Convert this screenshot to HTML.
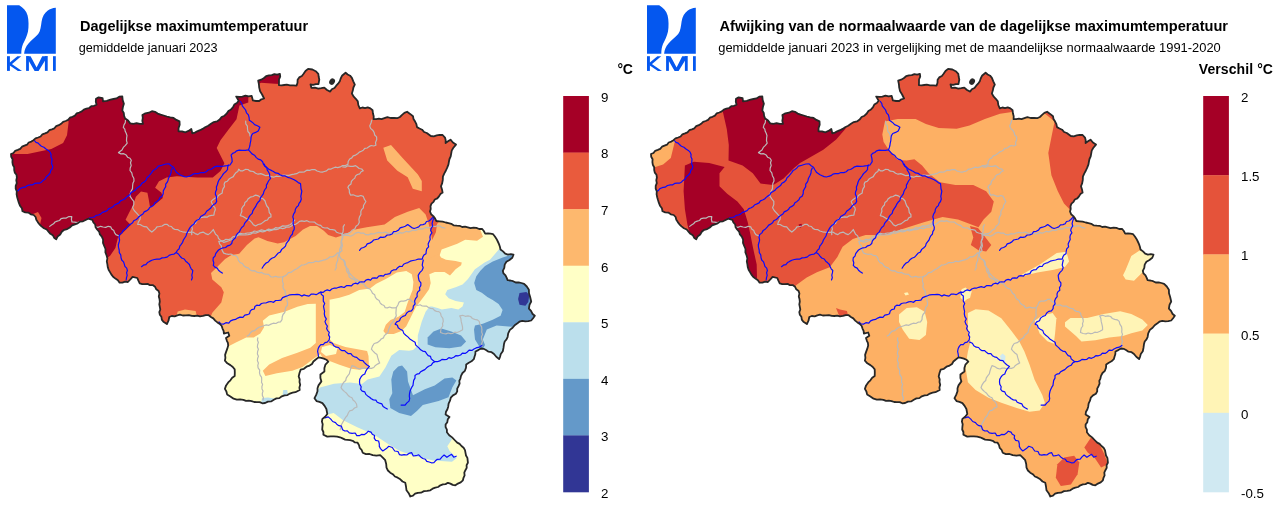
<!DOCTYPE html>
<html><head><meta charset="utf-8"><style>
html,body{margin:0;padding:0;background:#fff;width:1280px;height:507px;overflow:hidden}
svg{display:block;will-change:transform}
text{font-family:"Liberation Sans",sans-serif;fill:#000}
</style></head><body>
<svg width="1280" height="507" viewBox="0 0 1280 507">
<defs><clipPath id="clipBE"><path d="M11,154 L13.5,153 L15.2,150.8 L17.8,149.9 L20.2,148.9 L22,146.7 L24.5,145.7 L27,144.7 L28.7,142.5 L31.3,141.6 L33.5,140.2 L35.5,138.4 L38.1,137.5 L40.6,136.5 L42.4,134.3 L45,133.4 L47.5,132.4 L49.3,130.2 L51.9,129.3 L54.4,128.3 L56.2,126.1 L58.8,125.2 L61.1,123.8 L63.1,121.9 L65.7,121 L68.1,119.9 L69.9,117.7 L72.5,116.8 L74.9,115.6 L76.7,113.4 L79.3,112.5 L81.8,111.4 L83.8,109.6 L86.4,108.7 L89.1,108 L91.3,106.2 L94.1,105.8 L96.6,104.7 L95.8,101.8 L96,98.7 L98.6,97.4 L102.6,98.1 L103,101.3 L106.8,100.9 L110.5,99.7 L113.5,99 L116.5,98.4 L119.2,96.7 L122.3,96.4 L122.7,100.1 L123.9,103.7 L122.9,107.1 L122.3,110.6 L123.8,113 L124.1,115.9 L125.2,118.5 L128.1,120.6 L130.2,123.4 L133.4,123.9 L136.6,123.1 L139.8,123.9 L143,123.8 L142.3,120.9 L142.8,118 L142.4,115.1 L145.4,113.3 L148.8,112.7 L151.9,111.2 L155,111.8 L157.7,113.6 L160.6,114.7 L163.7,115.5 L166.9,116.5 L170.2,117.4 L173.6,117.9 L176.4,119.9 L179.5,121.4 L179.7,124.8 L178.6,128 L178.5,131.3 L182,131.3 L185.4,132.3 L188.5,130.9 L191.3,128.9 L192.3,133.3 L194.9,132.6 L197.2,131.3 L200,130.2 L202.6,128.9 L205.1,127.3 L208.2,125.8 L211,123.8 L213.8,122.1 L217,121.4 L219.6,119.6 L221.6,117 L224.5,115.7 L226.8,113.5 L228.4,111 L231,109.4 L232.9,107.3 L234.3,104.6 L236.9,103 L238.7,100.7 L236.2,96.6 L239.3,96.8 L242.4,96.6 L245.5,95.6 L248.6,96.4 L251.7,95.9 L252.9,100.4 L256,101 L259.2,101 L261.4,99.3 L264.1,98.5 L262.1,94.5 L260.1,91.3 L259.2,87.6 L258.9,84.1 L258.2,80.7 L261.1,79.7 L263.7,78.2 L266.1,76.2 L269,75.4 L271.8,75.2 L274.4,74.1 L277.2,74.6 L279.9,73.8 L280.2,76.7 L279,79.5 L279,82.3 L278.9,85.2 L281.6,85.4 L284.2,85 L286.8,84.7 L290,85.4 L293.3,85.4 L296.6,85.6 L297.5,82.7 L297.6,79.7 L299.2,77.4 L301.9,76 L303.6,73.8 L305.5,71 L308.1,68.9 L312.4,69.5 L315.7,71.2 L318.3,73.8 L318.7,76.8 L319.3,79.7 L318.5,84 L315.8,84.1 L313.2,84.8 L310.5,84.5 L311.4,87.8 L314.9,87.7 L318.3,88.6 L321.3,88.2 L324.3,87.6 L327,90 L330.2,91.6 L331.8,89.3 L334.5,88 L336.2,85.7 L338.1,83.7 L339.8,81.3 L340.7,78.5 L342,75.8 L345.6,72.8 L347.7,74.5 L350.1,75.7 L351.9,77.8 L353.3,81.3 L354.8,84.7 L353.4,87.5 L352.8,90.6 L351.9,93.5 L353.5,96.4 L355.8,98.8 L357.8,101.4 L358.3,105 L359.8,108.3 L362.4,107.5 L365.1,108.1 L367.7,107.3 L370.4,108.4 L372.6,110.3 L372.9,113.3 L373.7,116.2 L373.6,119.2 L376.2,119.2 L378.9,118.7 L381.5,119.2 L384.4,118.2 L387.4,117.2 L390.6,118 L393.9,117.8 L397.2,118.2 L399.9,117 L402.1,114.9 L404.4,112.9 L407.1,111.7 L410.1,113.9 L413,116.2 L413.5,119.1 L415.1,121.6 L416.4,124.2 L417,127.1 L419.5,128.5 L422.1,129.7 L424.1,132 L426.8,133 L430.8,136 L433.8,136.3 L436.7,135.4 L439.6,134.8 L442.6,135 L445,137.6 L445.7,140.3 L445.6,143 L448,141.3 L450.5,139.7 L452.9,142.5 L456,144.6 L453.2,148 L451.7,150.6 L451.2,153.5 L450.7,156.4 L449.5,159 L448.9,161.8 L448.4,164.6 L447.3,167.3 L445.9,170.5 L444.2,173.6 L442.9,176.6 L442.8,179.9 L442.2,183.1 L441,186.2 L442,189.4 L442.6,192.6 L440.4,194.1 L439,196.4 L437.3,198.4 L434.8,199.5 L433.5,201.9 L431.5,203.6 L430.5,206.1 L430.7,208.9 L430,211.5 L431.1,214.2 L433.3,216.1 L435,218.4 L436.3,221 L439.5,221.3 L442.6,221.7 L445.7,222.5 L448.5,223.1 L451.3,223.8 L453.9,225.4 L456.8,225.7 L459.6,225.8 L462.2,227 L465.1,226.7 L467.8,227.3 L470.6,228.1 L473.5,227.7 L476.4,227.9 L479.1,229 L482,228.8 L483.8,231 L485.2,233.6 L487.9,233.5 L490.5,233.7 L493.1,234.2 L494.9,236.5 L496.5,238.9 L497.8,241.5 L499,244.1 L499.9,246.7 L500.5,249.5 L503,251.4 L505.2,253.7 L507.9,254.6 L510.8,254.1 L513.5,254.7 L512.3,257.8 L509.5,260 L506.4,261.8 L504.7,264.6 L504.3,267.9 L502.8,270.8 L503.5,273.4 L505.5,275.4 L506.6,277.7 L507.6,280.2 L510.4,280.5 L513.1,281.2 L515.7,282.5 L518.7,282.3 L521.4,283 L524.1,283.8 L526.8,286.5 L528.9,289.7 L529,293.3 L530.1,296.8 L531.2,301.5 L529.5,304.9 L528.9,308.6 L531,310.8 L532.4,313.7 L534.8,315.7 L533.1,318.2 L531.2,320.5 L528.3,321.2 L525.3,321.3 L522.3,320.9 L519.4,321.7 L517.1,323.6 L514.7,325.2 L512.6,327.8 L509.9,329.9 L508.2,333.3 L507.6,337 L506.5,339.4 L504.7,341.5 L504,344.1 L503.5,347.7 L502.8,351.2 L500.8,354 L500.1,356.6 L499.1,359.1 L496.3,356.8 L494,354 L491.6,352.2 L488.5,351.7 L486,350 L483.6,348.8 L481,348.5 L478.3,350.1 L475.5,351.5 L475.3,354.2 L474.5,356.7 L473.8,359.2 L471.5,361.3 L468.8,362.7 L466.2,364.4 L466,367.7 L464.9,370.8 L462.5,373 L461,375.9 L460.4,378.5 L459.3,380.9 L459.6,383.7 L458.5,386.2 L457.2,388.6 L457.2,391.4 L455.9,393.8 L453,395.4 L450.8,397.7 L450,400.7 L448.6,403.6 L448.2,406.7 L447.4,409.3 L446,411.7 L445.6,414.4 L449.5,416.9 L447.8,419.2 L447.3,422.2 L445.6,424.6 L445.6,427.2 L446.9,429.7 L446.9,432.3 L449.2,435.2 L452.1,437.4 L454.6,440 L457.2,442.6 L459.6,443.9 L461.5,446 L463.6,447.7 L465,450.1 L465.5,452.8 L466,455.5 L467.4,457.9 L467.9,462.7 L466.6,465.1 L466.7,467.9 L465.4,470.2 L464.3,472.6 L464.6,475.4 L463.5,477.8 L462.9,480.3 L460.7,482.4 L457.9,483.6 L455.4,485.3 L452.7,484.9 L450.4,483.6 L447.9,482.8 L445.6,484.1 L442.9,484.4 L440.4,485.3 L438.1,487 L435.3,487.7 L432.6,488.7 L430.3,490.3 L427.2,490.8 L424,491.1 L421,492.7 L417.8,492.8 L415.1,493.7 L413,495.7 L410.3,496.5 L408.7,493.2 L406.5,490.3 L406,486.5 L405.3,482.8 L402.5,481.5 L400.3,479.3 L397.7,477.7 L394.9,476.5 L392.8,474.2 L390.2,472.7 L387.9,470.5 L386.5,467.7 L386.2,463.9 L385.2,460.2 L382.8,457.6 L380.2,455.2 L376.4,455.7 L372.7,455.2 L369.5,454 L365.9,454.1 L362.7,452.7 L361.7,450 L359.7,447.9 L359,445.1 L357.6,442.7 L354.9,442.4 L352.7,440.8 L350.1,440.2 L345.1,439.6 L342.5,438.4 L340,437.3 L337.2,436.6 L333.9,436.4 L330.6,436.3 L327.3,436.6 L323.4,434.7 L323.4,432 L322.2,429.5 L322.4,426.8 L322.7,424.2 L321.9,421.5 L322.4,418.9 L325.1,416.7 L327.3,414 L326.4,409 L324.6,405.9 L322.4,403.1 L319.5,401.9 L316.5,401.1 L314.5,398.2 L316.2,394.9 L317.5,391.3 L317.5,388.3 L318.5,385.4 L321.4,381.4 L320.4,378 L320.4,374.5 L324.4,371.6 L324.4,368.1 L325.4,364.7 L328.3,361.7 L326.4,359.7 L323.9,358.6 L321.2,357.9 L318.5,357.4 L315.5,359.7 L313.4,361.5 L312,364 L309.6,365.6 L306.5,366.7 L303.9,368.8 L300.7,369.6 L299.5,373 L298.7,376.5 L299.7,379.4 L299.5,382 L300.2,384.7 L299.4,387.4 L299.7,390 L295.4,392.2 L292.6,392.7 L289.9,393.6 L287.5,395.1 L284.6,395.4 L281.8,396.3 L279.4,398.1 L276.4,398.4 L273.8,399.8 L271.1,401.4 L267.9,401.6 L265.1,403 L262.3,403.3 L259.7,402.1 L256.9,402.1 L254.2,402 L251.6,401.1 L248.8,400.7 L246,400.9 L243.4,399.8 L240.1,399.3 L236.8,399.6 L233.6,398.7 L230.4,396.4 L227.1,394.4 L226.4,391.5 L224.9,388.9 L226.1,385.4 L228.2,382.4 L230.4,380.3 L232.2,377.7 L234.7,375.9 L234.8,372.6 L234.7,369.4 L232.8,367 L230.4,365.1 L227.3,363.3 L224.9,360.7 L225.4,357.8 L225.1,354.9 L226,352.1 L227.2,348.9 L228.2,345.6 L227.9,342.9 L226.8,340.5 L226,338 L229.3,335.8 L228.2,332.5 L223.9,333.6 L223.6,330.9 L222.5,328.5 L221.7,326 L219.8,323.9 L217.4,322.4 L215.2,320.6 L213.3,318.4 L210.9,317 L208.7,315.2 L205.7,315.1 L202.9,315.9 L200,316.3 L197.3,315.7 L194.5,316 L191.8,315.9 L188.9,315.1 L185.9,315.3 L182.8,315.5 L179.9,314.7 L177.3,315.3 L174.7,316.3 L171.8,316 L169.3,317 L168.5,320.7 L166.9,324.1 L163.4,321.8 L161.8,319.6 L161.4,316.8 L159.8,314.7 L159.3,312.1 L160.3,309.5 L159.8,306.9 L159.3,304.3 L159.8,301.7 L159.5,299 L158.8,296.4 L159.4,293.6 L158.6,291 L156.3,289.3 L155,286.7 L152.7,285.1 L150,285.2 L147.6,283.9 L144.9,284.2 L142.2,284.2 L139.7,283.4 L138.4,280.7 L137.3,278 L132.6,276.8 L130.3,279.5 L127.9,282 L125.1,281.7 L122.4,282.6 L119.6,282.7 L117.9,280.3 L115.4,278.6 L113.1,276.8 L111.3,274.4 L110,272.1 L108.6,269.8 L107.8,267.3 L107.4,264.4 L106.8,261.4 L107.4,258.4 L106.6,255.5 L105.4,252.4 L105.5,249 L104.2,246 L103,243 L103.1,239.6 L101.8,236.6 L99.9,234.4 L99.1,231.6 L97.1,229.5 L95.6,227.3 L95.2,224.5 L93.4,222.5 L92.4,220 L88.1,218.7 L85.6,220 L83,221.3 L80,221.6 L77.7,223.4 L75,224.3 L72.1,225.3 L69.8,227.5 L67.2,229.1 L64.2,229.8 L61.8,231.8 L60.2,234.5 L57.6,236.5 L56.2,239.3 L54.1,237.7 L52.8,235.2 L50.4,233.8 L48.7,231.8 L46.7,229.5 L43.9,228.2 L41.5,226.4 L39.4,224.3 L37.8,222.1 L36.3,219.8 L35.6,217 L33.7,215 L30.8,214.3 L28.3,212.6 L25.2,212.4 L22.5,211.2 L21.9,208.2 L20,205.7 L18.9,202.9 L18,200 L17.2,197.2 L16.6,194.4 L16.8,191.4 L15.7,188.7 L15.7,185.9 L16.8,183.2 L16.3,180.3 L16.9,177.5 L16.5,174.8 L14.8,172.6 L14.2,170 L14.2,167.2 L12.8,164.7 L12.4,162 L12.6,159.2 L11.2,156.7 Z"/></clipPath></defs>
<g fill="#0457ef">
<path d="M7,5.2 L19.2,5.2 C23,7.5 26.5,11 27.6,15.5 C28.8,20 28.8,27 28,31.5 C27,36 25,40 23,44 C21.8,47 21.3,50 21.3,53.75 L7,53.75 Z"/>
<path d="M55.8,7.8 L55.8,53.75 L24.1,53.75 C24.6,49.5 25.8,46.5 28.5,43.5 C31.5,40 35,37.8 38.2,34 C40.6,31 40.9,26 41.6,21.5 C42.4,16.5 44.5,13 47.5,10.8 C50,9 52.5,8 55.8,7.8 Z"/>
<rect x="7" y="56.2" width="2.9" height="14.7"/>
<path d="M9.2,62.9 L17.4,56.2 L21.2,56.2 L10.6,65.2 Z"/>
<path d="M9.6,62.4 L22,70.9 L17.9,70.9 L9.4,65.3 Z"/>
<rect x="26.1" y="56.2" width="2.8" height="14.7"/>
<rect x="44.9" y="56.2" width="2.8" height="14.7"/>
<path d="M26.1,56.2 L30.6,56.2 L36.6,67.4 L42.2,56.2 L47.7,56.2 L38.6,70.9 L34.6,70.9 Z"/>
<rect x="53" y="56.2" width="2.8" height="14.7"/>
</g>
<g transform="translate(640,0)"><g fill="#0457ef">
<path d="M7,5.2 L19.2,5.2 C23,7.5 26.5,11 27.6,15.5 C28.8,20 28.8,27 28,31.5 C27,36 25,40 23,44 C21.8,47 21.3,50 21.3,53.75 L7,53.75 Z"/>
<path d="M55.8,7.8 L55.8,53.75 L24.1,53.75 C24.6,49.5 25.8,46.5 28.5,43.5 C31.5,40 35,37.8 38.2,34 C40.6,31 40.9,26 41.6,21.5 C42.4,16.5 44.5,13 47.5,10.8 C50,9 52.5,8 55.8,7.8 Z"/>
<rect x="7" y="56.2" width="2.9" height="14.7"/>
<path d="M9.2,62.9 L17.4,56.2 L21.2,56.2 L10.6,65.2 Z"/>
<path d="M9.6,62.4 L22,70.9 L17.9,70.9 L9.4,65.3 Z"/>
<rect x="26.1" y="56.2" width="2.8" height="14.7"/>
<rect x="44.9" y="56.2" width="2.8" height="14.7"/>
<path d="M26.1,56.2 L30.6,56.2 L36.6,67.4 L42.2,56.2 L47.7,56.2 L38.6,70.9 L34.6,70.9 Z"/>
<rect x="53" y="56.2" width="2.8" height="14.7"/>
</g></g>
<text x="80" y="30.9" font-size="15" font-weight="bold" textLength="228.1" lengthAdjust="spacingAndGlyphs">Dagelijkse maximumtemperatuur</text>
<text x="78.75" y="51.5" font-size="12.9" textLength="138.75" lengthAdjust="spacingAndGlyphs">gemiddelde januari 2023</text>
<text x="719.5" y="31.1" font-size="15" font-weight="bold" textLength="508.5" lengthAdjust="spacingAndGlyphs">Afwijking van de normaalwaarde van de dagelijkse maximumtemperatuur</text>
<text x="718.25" y="51.8" font-size="12.9" textLength="502.5" lengthAdjust="spacingAndGlyphs">gemiddelde januari 2023 in vergelijking met de maandelijkse normaalwaarde 1991-2020</text>
<rect x="563.2" y="96.00" width="25.7" height="56.87" fill="#a50026"/>
<rect x="563.2" y="152.57" width="25.7" height="56.87" fill="#e95b3d"/>
<rect x="563.2" y="209.14" width="25.7" height="56.87" fill="#fdb86e"/>
<rect x="563.2" y="265.71" width="25.7" height="56.87" fill="#ffffc6"/>
<rect x="563.2" y="322.29" width="25.7" height="56.87" fill="#bbdfec"/>
<rect x="563.2" y="378.86" width="25.7" height="56.87" fill="#6499c9"/>
<rect x="563.2" y="435.43" width="25.7" height="56.87" fill="#313695"/>
<text x="601.0" y="101.90" font-size="13.3">9</text>
<text x="601.0" y="158.47" font-size="13.3">8</text>
<text x="601.0" y="215.04" font-size="13.3">7</text>
<text x="601.0" y="271.61" font-size="13.3">6</text>
<text x="601.0" y="328.19" font-size="13.3">5</text>
<text x="601.0" y="384.76" font-size="13.3">4</text>
<text x="601.0" y="441.33" font-size="13.3">3</text>
<text x="601.0" y="497.90" font-size="13.3">2</text>
<text x="617.6" y="73.8" font-size="14" font-weight="bold" textLength="15.2">°C</text>
<rect x="1203.2" y="96.00" width="25.7" height="79.50" fill="#a50026"/>
<rect x="1203.2" y="175.20" width="25.7" height="79.50" fill="#e5533a"/>
<rect x="1203.2" y="254.40" width="25.7" height="79.50" fill="#fdb064"/>
<rect x="1203.2" y="333.60" width="25.7" height="79.50" fill="#fff4b6"/>
<rect x="1203.2" y="412.80" width="25.7" height="79.50" fill="#d0e9f2"/>
<text x="1241.0" y="101.90" font-size="13.3">2</text>
<text x="1241.0" y="181.10" font-size="13.3">1.5</text>
<text x="1241.0" y="260.30" font-size="13.3">1</text>
<text x="1241.0" y="339.50" font-size="13.3">0.5</text>
<text x="1241.0" y="418.70" font-size="13.3">0</text>
<text x="1241.0" y="497.90" font-size="13.3">-0.5</text>
<text x="1198.75" y="73.8" font-size="14" font-weight="bold" textLength="74.2">Verschil °C</text>
<g transform="translate(0,0)">
<path d="M11,154 L13.5,153 L15.2,150.8 L17.8,149.9 L20.2,148.9 L22,146.7 L24.5,145.7 L27,144.7 L28.7,142.5 L31.3,141.6 L33.5,140.2 L35.5,138.4 L38.1,137.5 L40.6,136.5 L42.4,134.3 L45,133.4 L47.5,132.4 L49.3,130.2 L51.9,129.3 L54.4,128.3 L56.2,126.1 L58.8,125.2 L61.1,123.8 L63.1,121.9 L65.7,121 L68.1,119.9 L69.9,117.7 L72.5,116.8 L74.9,115.6 L76.7,113.4 L79.3,112.5 L81.8,111.4 L83.8,109.6 L86.4,108.7 L89.1,108 L91.3,106.2 L94.1,105.8 L96.6,104.7 L95.8,101.8 L96,98.7 L98.6,97.4 L102.6,98.1 L103,101.3 L106.8,100.9 L110.5,99.7 L113.5,99 L116.5,98.4 L119.2,96.7 L122.3,96.4 L122.7,100.1 L123.9,103.7 L122.9,107.1 L122.3,110.6 L123.8,113 L124.1,115.9 L125.2,118.5 L128.1,120.6 L130.2,123.4 L133.4,123.9 L136.6,123.1 L139.8,123.9 L143,123.8 L142.3,120.9 L142.8,118 L142.4,115.1 L145.4,113.3 L148.8,112.7 L151.9,111.2 L155,111.8 L157.7,113.6 L160.6,114.7 L163.7,115.5 L166.9,116.5 L170.2,117.4 L173.6,117.9 L176.4,119.9 L179.5,121.4 L179.7,124.8 L178.6,128 L178.5,131.3 L182,131.3 L185.4,132.3 L188.5,130.9 L191.3,128.9 L192.3,133.3 L194.9,132.6 L197.2,131.3 L200,130.2 L202.6,128.9 L205.1,127.3 L208.2,125.8 L211,123.8 L213.8,122.1 L217,121.4 L219.6,119.6 L221.6,117 L224.5,115.7 L226.8,113.5 L228.4,111 L231,109.4 L232.9,107.3 L234.3,104.6 L236.9,103 L238.7,100.7 L236.2,96.6 L239.3,96.8 L242.4,96.6 L245.5,95.6 L248.6,96.4 L251.7,95.9 L252.9,100.4 L256,101 L259.2,101 L261.4,99.3 L264.1,98.5 L262.1,94.5 L260.1,91.3 L259.2,87.6 L258.9,84.1 L258.2,80.7 L261.1,79.7 L263.7,78.2 L266.1,76.2 L269,75.4 L271.8,75.2 L274.4,74.1 L277.2,74.6 L279.9,73.8 L280.2,76.7 L279,79.5 L279,82.3 L278.9,85.2 L281.6,85.4 L284.2,85 L286.8,84.7 L290,85.4 L293.3,85.4 L296.6,85.6 L297.5,82.7 L297.6,79.7 L299.2,77.4 L301.9,76 L303.6,73.8 L305.5,71 L308.1,68.9 L312.4,69.5 L315.7,71.2 L318.3,73.8 L318.7,76.8 L319.3,79.7 L318.5,84 L315.8,84.1 L313.2,84.8 L310.5,84.5 L311.4,87.8 L314.9,87.7 L318.3,88.6 L321.3,88.2 L324.3,87.6 L327,90 L330.2,91.6 L331.8,89.3 L334.5,88 L336.2,85.7 L338.1,83.7 L339.8,81.3 L340.7,78.5 L342,75.8 L345.6,72.8 L347.7,74.5 L350.1,75.7 L351.9,77.8 L353.3,81.3 L354.8,84.7 L353.4,87.5 L352.8,90.6 L351.9,93.5 L353.5,96.4 L355.8,98.8 L357.8,101.4 L358.3,105 L359.8,108.3 L362.4,107.5 L365.1,108.1 L367.7,107.3 L370.4,108.4 L372.6,110.3 L372.9,113.3 L373.7,116.2 L373.6,119.2 L376.2,119.2 L378.9,118.7 L381.5,119.2 L384.4,118.2 L387.4,117.2 L390.6,118 L393.9,117.8 L397.2,118.2 L399.9,117 L402.1,114.9 L404.4,112.9 L407.1,111.7 L410.1,113.9 L413,116.2 L413.5,119.1 L415.1,121.6 L416.4,124.2 L417,127.1 L419.5,128.5 L422.1,129.7 L424.1,132 L426.8,133 L430.8,136 L433.8,136.3 L436.7,135.4 L439.6,134.8 L442.6,135 L445,137.6 L445.7,140.3 L445.6,143 L448,141.3 L450.5,139.7 L452.9,142.5 L456,144.6 L453.2,148 L451.7,150.6 L451.2,153.5 L450.7,156.4 L449.5,159 L448.9,161.8 L448.4,164.6 L447.3,167.3 L445.9,170.5 L444.2,173.6 L442.9,176.6 L442.8,179.9 L442.2,183.1 L441,186.2 L442,189.4 L442.6,192.6 L440.4,194.1 L439,196.4 L437.3,198.4 L434.8,199.5 L433.5,201.9 L431.5,203.6 L430.5,206.1 L430.7,208.9 L430,211.5 L431.1,214.2 L433.3,216.1 L435,218.4 L436.3,221 L439.5,221.3 L442.6,221.7 L445.7,222.5 L448.5,223.1 L451.3,223.8 L453.9,225.4 L456.8,225.7 L459.6,225.8 L462.2,227 L465.1,226.7 L467.8,227.3 L470.6,228.1 L473.5,227.7 L476.4,227.9 L479.1,229 L482,228.8 L483.8,231 L485.2,233.6 L487.9,233.5 L490.5,233.7 L493.1,234.2 L494.9,236.5 L496.5,238.9 L497.8,241.5 L499,244.1 L499.9,246.7 L500.5,249.5 L503,251.4 L505.2,253.7 L507.9,254.6 L510.8,254.1 L513.5,254.7 L512.3,257.8 L509.5,260 L506.4,261.8 L504.7,264.6 L504.3,267.9 L502.8,270.8 L503.5,273.4 L505.5,275.4 L506.6,277.7 L507.6,280.2 L510.4,280.5 L513.1,281.2 L515.7,282.5 L518.7,282.3 L521.4,283 L524.1,283.8 L526.8,286.5 L528.9,289.7 L529,293.3 L530.1,296.8 L531.2,301.5 L529.5,304.9 L528.9,308.6 L531,310.8 L532.4,313.7 L534.8,315.7 L533.1,318.2 L531.2,320.5 L528.3,321.2 L525.3,321.3 L522.3,320.9 L519.4,321.7 L517.1,323.6 L514.7,325.2 L512.6,327.8 L509.9,329.9 L508.2,333.3 L507.6,337 L506.5,339.4 L504.7,341.5 L504,344.1 L503.5,347.7 L502.8,351.2 L500.8,354 L500.1,356.6 L499.1,359.1 L496.3,356.8 L494,354 L491.6,352.2 L488.5,351.7 L486,350 L483.6,348.8 L481,348.5 L478.3,350.1 L475.5,351.5 L475.3,354.2 L474.5,356.7 L473.8,359.2 L471.5,361.3 L468.8,362.7 L466.2,364.4 L466,367.7 L464.9,370.8 L462.5,373 L461,375.9 L460.4,378.5 L459.3,380.9 L459.6,383.7 L458.5,386.2 L457.2,388.6 L457.2,391.4 L455.9,393.8 L453,395.4 L450.8,397.7 L450,400.7 L448.6,403.6 L448.2,406.7 L447.4,409.3 L446,411.7 L445.6,414.4 L449.5,416.9 L447.8,419.2 L447.3,422.2 L445.6,424.6 L445.6,427.2 L446.9,429.7 L446.9,432.3 L449.2,435.2 L452.1,437.4 L454.6,440 L457.2,442.6 L459.6,443.9 L461.5,446 L463.6,447.7 L465,450.1 L465.5,452.8 L466,455.5 L467.4,457.9 L467.9,462.7 L466.6,465.1 L466.7,467.9 L465.4,470.2 L464.3,472.6 L464.6,475.4 L463.5,477.8 L462.9,480.3 L460.7,482.4 L457.9,483.6 L455.4,485.3 L452.7,484.9 L450.4,483.6 L447.9,482.8 L445.6,484.1 L442.9,484.4 L440.4,485.3 L438.1,487 L435.3,487.7 L432.6,488.7 L430.3,490.3 L427.2,490.8 L424,491.1 L421,492.7 L417.8,492.8 L415.1,493.7 L413,495.7 L410.3,496.5 L408.7,493.2 L406.5,490.3 L406,486.5 L405.3,482.8 L402.5,481.5 L400.3,479.3 L397.7,477.7 L394.9,476.5 L392.8,474.2 L390.2,472.7 L387.9,470.5 L386.5,467.7 L386.2,463.9 L385.2,460.2 L382.8,457.6 L380.2,455.2 L376.4,455.7 L372.7,455.2 L369.5,454 L365.9,454.1 L362.7,452.7 L361.7,450 L359.7,447.9 L359,445.1 L357.6,442.7 L354.9,442.4 L352.7,440.8 L350.1,440.2 L345.1,439.6 L342.5,438.4 L340,437.3 L337.2,436.6 L333.9,436.4 L330.6,436.3 L327.3,436.6 L323.4,434.7 L323.4,432 L322.2,429.5 L322.4,426.8 L322.7,424.2 L321.9,421.5 L322.4,418.9 L325.1,416.7 L327.3,414 L326.4,409 L324.6,405.9 L322.4,403.1 L319.5,401.9 L316.5,401.1 L314.5,398.2 L316.2,394.9 L317.5,391.3 L317.5,388.3 L318.5,385.4 L321.4,381.4 L320.4,378 L320.4,374.5 L324.4,371.6 L324.4,368.1 L325.4,364.7 L328.3,361.7 L326.4,359.7 L323.9,358.6 L321.2,357.9 L318.5,357.4 L315.5,359.7 L313.4,361.5 L312,364 L309.6,365.6 L306.5,366.7 L303.9,368.8 L300.7,369.6 L299.5,373 L298.7,376.5 L299.7,379.4 L299.5,382 L300.2,384.7 L299.4,387.4 L299.7,390 L295.4,392.2 L292.6,392.7 L289.9,393.6 L287.5,395.1 L284.6,395.4 L281.8,396.3 L279.4,398.1 L276.4,398.4 L273.8,399.8 L271.1,401.4 L267.9,401.6 L265.1,403 L262.3,403.3 L259.7,402.1 L256.9,402.1 L254.2,402 L251.6,401.1 L248.8,400.7 L246,400.9 L243.4,399.8 L240.1,399.3 L236.8,399.6 L233.6,398.7 L230.4,396.4 L227.1,394.4 L226.4,391.5 L224.9,388.9 L226.1,385.4 L228.2,382.4 L230.4,380.3 L232.2,377.7 L234.7,375.9 L234.8,372.6 L234.7,369.4 L232.8,367 L230.4,365.1 L227.3,363.3 L224.9,360.7 L225.4,357.8 L225.1,354.9 L226,352.1 L227.2,348.9 L228.2,345.6 L227.9,342.9 L226.8,340.5 L226,338 L229.3,335.8 L228.2,332.5 L223.9,333.6 L223.6,330.9 L222.5,328.5 L221.7,326 L219.8,323.9 L217.4,322.4 L215.2,320.6 L213.3,318.4 L210.9,317 L208.7,315.2 L205.7,315.1 L202.9,315.9 L200,316.3 L197.3,315.7 L194.5,316 L191.8,315.9 L188.9,315.1 L185.9,315.3 L182.8,315.5 L179.9,314.7 L177.3,315.3 L174.7,316.3 L171.8,316 L169.3,317 L168.5,320.7 L166.9,324.1 L163.4,321.8 L161.8,319.6 L161.4,316.8 L159.8,314.7 L159.3,312.1 L160.3,309.5 L159.8,306.9 L159.3,304.3 L159.8,301.7 L159.5,299 L158.8,296.4 L159.4,293.6 L158.6,291 L156.3,289.3 L155,286.7 L152.7,285.1 L150,285.2 L147.6,283.9 L144.9,284.2 L142.2,284.2 L139.7,283.4 L138.4,280.7 L137.3,278 L132.6,276.8 L130.3,279.5 L127.9,282 L125.1,281.7 L122.4,282.6 L119.6,282.7 L117.9,280.3 L115.4,278.6 L113.1,276.8 L111.3,274.4 L110,272.1 L108.6,269.8 L107.8,267.3 L107.4,264.4 L106.8,261.4 L107.4,258.4 L106.6,255.5 L105.4,252.4 L105.5,249 L104.2,246 L103,243 L103.1,239.6 L101.8,236.6 L99.9,234.4 L99.1,231.6 L97.1,229.5 L95.6,227.3 L95.2,224.5 L93.4,222.5 L92.4,220 L88.1,218.7 L85.6,220 L83,221.3 L80,221.6 L77.7,223.4 L75,224.3 L72.1,225.3 L69.8,227.5 L67.2,229.1 L64.2,229.8 L61.8,231.8 L60.2,234.5 L57.6,236.5 L56.2,239.3 L54.1,237.7 L52.8,235.2 L50.4,233.8 L48.7,231.8 L46.7,229.5 L43.9,228.2 L41.5,226.4 L39.4,224.3 L37.8,222.1 L36.3,219.8 L35.6,217 L33.7,215 L30.8,214.3 L28.3,212.6 L25.2,212.4 L22.5,211.2 L21.9,208.2 L20,205.7 L18.9,202.9 L18,200 L17.2,197.2 L16.6,194.4 L16.8,191.4 L15.7,188.7 L15.7,185.9 L16.8,183.2 L16.3,180.3 L16.9,177.5 L16.5,174.8 L14.8,172.6 L14.2,170 L14.2,167.2 L12.8,164.7 L12.4,162 L12.6,159.2 L11.2,156.7 Z" fill="#e95b3d"/>
<g clip-path="url(#clipBE)">
<path fill="#a50026" d="M5,154 L27.6,154 L51.3,149 L63.1,143.1 L67,135.2 L68.5,123 L68,100 L150,85 L248,85 L248.3,96.5 L248.3,102.4 L239.4,105.4 L236.5,119.2 L228.2,130 L220.5,140.3 L216.7,147.9 L220.5,155.6 L224.4,163.3 L220.5,171 L212.8,177.4 L197.4,177.4 L176.9,176.2 L166.7,177.4 L159,181.3 L155.1,187.7 L161.5,192.8 L162.8,197.9 L155.1,204.4 L150,206.9 L148.7,199.2 L147.4,192.8 L141,191.5 L135.9,196.7 L133.3,204.4 L128.2,214.6 L125.6,219.7 L130.8,224.9 L123.1,232.6 L117.9,237.7 L115.4,247.9 L110.3,255.6 L105.1,260 L95,262 L0,262 L0,154 Z"/>
<path fill="#e95b3d" d="M33,214 L38,212 L41.5,218 L40,224.5 L35,224 L31,219 Z"/>
<path fill="#a50026" d="M255,70 L285,70 L281,84 L275,83.7 L261,82.7 L255,86 Z"/>
<path fill="#fdb86e" d="M150,330 L200,330 L211,316 L212.3,312.8 L221.3,302.6 L223.8,292.3 L221.3,287.2 L212.3,279.5 L211,273.1 L217.4,266.7 L225.1,259 L231.5,255.1 L239.2,253.8 L246.9,244.9 L254.6,238.5 L258.5,237.2 L267.4,241 L277.7,243.6 L284.1,242.3 L295.6,235.9 L303,229.5 L310,226 L317,226 L323.8,230.8 L328.2,234.9 L335.9,237.4 L343.6,234.9 L353.8,229.7 L366.7,227.2 L384.6,224.6 L394.9,216.9 L407.7,211.8 L419.2,207.9 L425.6,214.4 L428.2,222.1 L430.8,232.3 L432.1,240 L435.9,232.3 L437,224 L445,215 L560,215 L560,510 L150,510 Z"/>
<path fill="#fdb86e" d="M383.3,147.7 L391,145.1 L402.6,158 L417.9,174.6 L421.8,181 L421.8,191.3 L412.8,188.7 L407.7,177.2 L397.4,170.8 L387.2,160.5 Z"/>
<path fill="#fdb86e" d="M175,320 L177.7,311.5 L185,309.5 L195.6,311 L198,320 Z"/>
<path fill="#ffffc6" d="M200,347 L225.6,347.7 L235.9,342.6 L246.2,337.4 L253.8,337.4 L260.3,333.6 L264.1,327.2 L262.8,320.8 L269.2,315.6 L284.6,311.8 L297.4,306.7 L307.7,304.1 L315.8,303.7 L329.6,299.7 L339.4,297.8 L349.3,294.8 L359.2,289.9 L370,288.4 L376.3,283.7 L385.8,278.9 L396.8,272.6 L406.3,271 L412,268 L420,265 L430,261 L439.6,255.5 L441.6,249.6 L457.3,243.7 L465.2,239.7 L477.1,240.7 L483,236.8 L481,231.8 L479,226 L540,226 L540,510 L200,510 Z"/>
<path fill="#fdb86e" d="M315.8,300 L329.6,299.7 L329.6,339.2 L333.5,343.1 L345.4,347.1 L367.1,351 L368.5,356 L369,367.8 L359.2,369.7 L351.3,368.8 L339.4,364.8 L329.6,360.9 L322,357 L320.5,354.1 L312.8,359.2 L302.6,366.9 L292.3,370.8 L276.9,373.3 L265.4,375.9 L262.8,370.8 L269.2,364.4 L282.1,357.9 L297.4,352.8 L310.3,347.7 L315.8,343.1 L315.8,320 Z"/>
<path fill="#ffffc6" d="M322,347 L330,345 L337.5,348 L336,354 L326,356 L321,352 Z"/>
<path fill="#fdb86e" d="M400,262 L406.3,271 L411.8,274.2 L413.4,282.1 L412.6,290 L409.4,297.9 L407.1,304.2 L404.7,312.1 L398.4,316.8 L390.5,320 L385.8,324.7 L383.4,331 L385.8,334.1 L393.7,334.1 L401.5,331 L406.3,326.2 L409.4,320 L412.6,313.6 L415.7,307.3 L420.5,301 L425.2,294.7 L429.1,289.2 L430.7,283 L429.3,274.2 L434.9,272.1 L444.5,272.1 L450,275.6 L455.6,269.3 L461.1,265.2 L461.8,262.4 L455.6,261 L446,259.7 L441,257.5 L439,254 L430,258 Z"/>
<path fill="#bbdfec" d="M305,398 L316,392 L320,387.5 L334,383.8 L350,382.4 L362,384 L367.6,379.4 L379.4,376.5 L385.4,367.6 L391.3,355.8 L399.2,349.9 L409,350.8 L413,350 L417.8,345.4 L417.8,335.5 L421.7,321.7 L425.6,311.8 L429.6,306.5 L432.1,306.6 L437.6,308 L441.8,309.4 L451.4,308 L458.3,309.4 L462.5,306.6 L463.9,302.5 L455.6,301.1 L448.7,298.3 L445.2,294.2 L447.3,290.1 L455.6,287.3 L462.5,284.5 L468,279 L474.9,269.3 L484.6,262.4 L490,259.7 L498.8,249.6 L503,246 L540,240 L540,425 L448,425 L448,433 L452,439.2 L447.3,446.3 L449.6,451 L456.7,458.1 L452,461.7 L433.1,460.5 L414.1,455.7 L399.9,451 L388.1,443.9 L373.9,434.4 L357.3,427.3 L343.1,420.2 L333.7,413.1 L323,415.5 L310,415 Z"/>
<path fill="#bbdfec" d="M261,404 L262,398 L268,397.5 L274.4,398.5 L275,404 Z"/>
<path fill="#bbdfec" d="M282.5,395 L283.3,390 L287.2,390 L288,395 Z"/>
<path fill="#6499c9" d="M515,250 L512.6,254.5 L502.7,257.5 L492.8,261.4 L485,266 L480.4,270.7 L476.3,276.2 L474.2,283.1 L476.3,290.1 L481.8,292.8 L487.3,297 L492.7,300 L498.6,303.9 L502.6,309.9 L500.6,315.8 L492.7,319.7 L482.8,323.7 L475,325.6 L474,329.6 L475,339.4 L479,346 L481,352 L485,345 L482.8,339.4 L486.8,329.6 L496.6,325.6 L508.5,326.6 L516,327 L545,327 L545,250 Z"/>
<path fill="#6499c9" d="M427.6,337.5 L433.5,331.6 L441.4,328.6 L451.3,331.6 L461.1,335.5 L466.1,341.4 L461.1,346.4 L449.3,348.3 L435.5,347.3 L427.6,344.4 Z"/>
<path fill="#6499c9" d="M402.1,365.6 L407.1,371.6 L408,381.4 L413,395.2 L424.8,389.3 L434.7,385.4 L444.5,378.5 L452.4,377.5 L456.4,380.4 L452.4,387.3 L448.5,397.2 L438.6,401.1 L422.8,405.1 L416.9,411 L411,415.9 L399.2,413 L390.3,408 L389.3,399.2 L392.3,393.3 L391.3,379.4 L393.3,371.6 L398.2,366.6 Z"/>
<path fill="#313695" d="M519.5,293 L526.4,292 L529.3,295 L528.3,301.9 L525.4,305.8 L519.5,304.8 L518.1,298.9 Z"/>
<g fill="none" stroke="#b9b9b9" stroke-width="1.2" stroke-linejoin="round" stroke-linecap="round"><path d="M245.7,121 L245.8,123.8 L247.4,126.2 L247.5,129 L247.9,131.5 L249.7,133.5 L250,136"/>
<path d="M125.5,120 L125.3,122.6 L124,124.9 L123.3,127.3 L124.8,129.1 L125.2,131.3 L126.2,133.3 L127,135.7 L126.6,138.2 L126.5,140.7 L127.2,143.1 L125.4,145.4 L123.3,147.4 L122,150 L118.5,152.6 L120.9,153.9 L123.8,153.7 L126.2,155.1 L127.6,157.2 L130,158.2 L131.3,160.3 L130.5,162.8 L131.2,165.5 L130.2,167.9 L130,170.5 L131.8,172.8 L132.4,175.7 L133.8,178.2 L134,180.9 L132.9,183.3 L132.6,185.9 L132.5,188.6 L131.2,191 L130.2,193.5 L130,196.2 L131.8,198.8 L133.8,201.3 L133.8,204.6 L132.6,207.7 L134.2,210.5 L136.4,212.8 L138.2,214.9 L140.3,216.7 L140,219.5 L138.4,221.8 L137.7,224.4 L140.1,224.5 L142.2,225.8 L144.3,226.7 L146.7,226.9 L148.3,228.8 L149.8,230.6 L151.8,232.1 L153.6,230.5 L155.5,228.9 L156.9,226.9 L159.5,226.5 L162.1,226 L164.5,224.4 L167.2,224.4 L168.9,226 L171.4,226.5 L172.9,228.4 L174.9,229.5 L177.6,229.6 L179.9,231 L182.5,231.8 L185.1,232.1 L187.7,232.3 L190.2,232.4 L192.8,232.1 L195.2,233.6 L197.9,234.6 L200.2,232.8 L203.1,232.1 L205.5,233.6 L208.2,234.6 L210.1,233.1 L211.8,231.4 L213.3,229.5 L214.4,231.9 L215.6,234.2 L217.7,235.9 L218.5,238.5 L220.9,240.6 L223.6,242.3 L226.3,241.7 L228.8,240.8 L231.3,239.7 L233.6,238.7 L235.8,237.4 L237.5,235.4 L240,234.6 L242.7,235 L245.4,234.9 L248,234.7 L250.6,234.1 L253,232.8 L255.7,233.1 L258.2,232.3 L260.3,231.3 L262.7,231.9 L264.8,231.4 L266.9,230.2 L269.3,230.8 L271.4,230.3 L273.6,229.7 L275.9,229.7 L278,229.2 L280.1,228 L282.5,228.6 L284.6,228.1 L286.7,227 L289,227.2 L291.2,226.3 L293,224.5 L295.6,224.3 L297.6,223.1 L299.4,221.3 L301.8,220.8 L304.3,221.3 L307,220.7 L309.4,222 L312,222 L314.6,222.1 L316.3,223.7 L318.4,224.8 L320.7,225.4 L322.3,227.2 L324.8,228 L327.6,227.9 L329.9,229.5 L332.6,229.7 L334.9,230.2 L336.5,232.2 L338.7,233 L341,233.3 L342.8,234.9 L345.3,235.5 L348,235.2 L350.5,236.2 L353.1,235 L355.4,233.1 L358.2,232.3 L360.7,233.1 L363.5,233 L365.8,234.7 L368.5,234.9 L370.9,233.7 L373.7,234 L376.2,233 L378.7,232.3 L381.1,232.9 L383.5,232.7 L385.9,232.2 L388.2,233.4 L390.6,233.2 L393.1,232.7 L395.4,233.9 L397.8,233.6 L399.9,232.6 L402.3,233.2 L404.4,232.3 L406.4,231.3 L408.8,231.9 L410.9,231 L413,230 L415.4,230.5 L417.5,229.6 L419.6,228.6 L422,229.2 L424.1,228.3 L426.2,227.3 L428.5,227.9 L430.6,227 L432.7,226 L435.1,226.6 L437.2,225.7 L439.9,226 L442.3,227.7 L445,228"/>
<path d="M49.7,226.4 L51.5,225 L53.5,223.8 L55,222 L57.2,221.1 L59.5,220.5 L61.1,218.6 L63.5,218.1 L66.3,218.1 L68.9,216.6 L71.8,216.7 L71.4,219.4 L72,222 L74.7,222.1 L77.4,222.6 L80.2,221.6 L82.9,222.2 L85.6,222 L88,221"/>
<path d="M95.4,226.9 L98,227.4 L100.5,226.3 L103.1,227 L105.7,227.4 L108.2,226.3 L110.8,226.9 L111.7,229.1 L113.8,230.4 L114.5,232.7 L115.9,234.6 L119,236"/>
<path d="M248,199 L250.3,197.2 L253.1,196.5 L255.6,195.1 L258.4,195.9 L260.7,197.8 L263.3,199 L265.1,201 L265.8,203.6 L266.8,206 L268.5,208 L269,210.3 L269.3,212.6 L270.9,214.5 L271,216.9 L268.8,217.8 L267.5,220 L265.1,220.7 L263.3,222.1 L261,223.9 L258.1,224.5 L255.6,225.9 L253.3,224.7 L251.9,222.6 L250.2,220.8 L248,219.5 L245.5,218 L243,216.5 L240.3,215.6 L241.1,213.4 L241.9,211.3 L241.6,208.8 L242.8,206.7 L244.4,205 L244.9,202.5 L246.9,201 L248,199"/>
<path d="M238.7,169.3 L240.3,170.8 L242.9,170.8 L245.3,169.4 L248,169.5 L250.3,171.2 L253.3,171.5 L255.6,173.3 L258.1,174.2 L260.8,173.6 L263.3,174.6 L265.8,175.7 L268.6,175.3 L271,176.7 L273.6,177.2 L276.1,176.2 L278.8,176.5 L281.3,175.9 L283.8,175 L286.4,175.4 L289,175.3 L291.5,174.6 L294.1,174.2 L296.7,173.7 L299.1,172.2 L301.8,172.1 L304.5,171.8 L306.8,170.2 L309.6,170.4 L312.1,169.5 L314.8,169.6 L317.1,171 L319.7,171.8 L322.3,172.1 L324.4,171.5 L326.5,170.9 L328.3,169.2 L330.6,169.2 L332.6,168.2 L335.1,167.2 L337.8,167.6 L340.3,166.9 L342.6,165.5 L345.4,165.5 L347.9,164.4 L348.2,161.5 L349.7,159 L351.8,157.9 L353.2,155.8 L355.6,155.1 L357.6,153.7 L359.3,152.1 L361.4,151.2 L363.3,150.2 L364.8,148.3 L367.2,148 L369,146.6 L371.2,145.5 L373.7,146 L375.9,145.2 L375.5,142.4 L376.7,139.7 L376.6,136.9 L374.7,135 L374.1,132.3 L372.7,130.2 L370.6,128.4 L369.7,125.9 L371,123 L371.8,120"/>
<path d="M342.8,166.9 L345.4,167.1 L347.9,165.8 L350.5,166.3 L353.1,166.3 L355.6,165.6 L357.4,167 L359.2,168.5 L361.7,169 L363.3,170.8 L361.1,171.7 L359.8,173.8 L357.4,174.5 L355.6,175.9 L354.8,178.1 L352.9,179.6 L351.4,181.4 L351,183.9 L349,185.4 L347.9,187.4 L349.3,189.8 L349.4,192.6 L350.5,195.1 L353.1,194.8 L355.6,195.8 L358.1,196.3 L360.8,195.5 L363.3,196.4 L364.3,199.1 L365.9,201.5 L364.7,203.5 L363.5,205.5 L363.4,207.9 L361.6,209.6 L360.8,211.8 L360.9,214.5 L359.5,216.9 L358.9,219.4 L359.3,222.2 L358.2,224.6 L356,226.3 L354.8,228.9 L352.2,230.2 L350.5,232.3 L348.1,233.7 L345.3,233.8 L342.8,234.9 L342.9,237.6 L341.5,240 L341,242.5 L341.4,245.3 L340.3,247.7 L339.5,250.2 L339.8,252.9 L338.4,255.3 L337.9,257.9 L337.7,260.5 L336.7,262.8 L336.1,265.2 L336.3,267.8 L335.1,270"/>
<path d="M343.8,260 L345.2,262.4 L345.4,265.2 L346.4,267.7 L348.2,269.3 L348.8,271.6 L349.9,273.7 L351.5,275.4 L353.4,277.1 L355.3,278.8 L357.6,280 L359.6,281.7 L361.8,283.1 L364.1,284.2 L365.5,286.4 L367.3,288.1 L369.9,289 L371.4,291 L372.5,293.3 L374.7,294.8 L375.4,297.4 L377,299.3 L379.1,300.5 L380.1,302.8 L381.7,304.5 L384,305.5 L385.2,307.6 L387.4,307.9 L389.6,307 L391.9,307.9 L394.1,307.9 L396.3,307.6 L397.9,305 L399.1,302.1 L401.2,301 L403.6,301.2 L405.8,300.7 L407.8,299.3 L410.1,299.3 L411.7,301.4 L414.2,302.6 L415.6,304.9 L417.8,305.5 L420.1,304.8 L422.2,306 L424.4,306.2 L426.7,306.2 L428.5,307.5 L430.5,308.4 L432.9,308.6 L434.4,310.4 L436.4,311.4 L438.8,311.6 L440.5,313.1 L441.2,316 L442.9,318.4 L443.3,321.4 L442.5,323.6 L442.8,326 L441.3,328 L440.8,330.2 L440.5,332.5 L443.2,333.5 L446,333.9 L448.1,333 L450.5,333.7 L452.7,333.3 L454.8,332.2 L457.1,332.5 L460,331.3 L462.6,329.7 L462.5,326.9 L461.9,324.1 L461.2,321.4 L460.9,318.6 L459.8,315.9 L462.6,315.3 L465.3,316.3 L468.1,315.9 L470.6,316.5 L472.4,318.5 L474.7,319.4 L477.2,319.8 L479.2,321.4 L479.9,324.2 L481.6,326.8 L481.9,329.7 L481.7,332.1 L482.5,334.4 L481.5,336.8 L481.7,339.2 L482.5,341.6 L481.5,343.9 L481.9,346.3"/>
<path d="M396.3,307.6 L396.1,310.4 L395.9,313.1 L396.3,315.9 L394.7,318.6 L393.5,321.4 L390.8,324.2 L389.7,326.9 L388.6,329.6 L388,332.5 L386.2,334 L384.4,335.6 L383.4,337.9 L381.2,339 L379.7,340.8 L377.2,342.7 L374.2,343.5 L372.5,346.1 L371.4,349.1 L373.1,351.1 L374.9,353 L377,354.6 L377.7,357.4 L378.5,360.2 L379.7,362.9 L377.5,364.1 L375.4,365.4 L373.8,367.5 L371.4,368.4 L369.1,368.1 L366.8,369 L364.5,368.1 L362.2,368.1 L359.9,369 L357.6,368.4 L355,366.7 L352.1,365.6 L350.9,368.3 L350,371 L349.3,373.9 L347.7,375.8 L346.3,377.9 L345.7,380.5 L343.8,382.2 L342.1,384.8 L341,387.7 L342.6,389.8 L344.5,391.6 L346.6,393.3 L348,395.2 L349.7,396.8 L352,397.8 L353,400.1 L354.9,401.5 L356.5,404 L357,407 L354.5,408 L352.4,410.1 L349.7,410.8 L348.3,413 L347.3,415.5 L345.4,417.7 L344,420.1 L342.6,422.6 L341.4,424.8 L340.8,427.3 L340.2,429.7"/>
<path d="M257.8,337.8 L257.4,340.1 L258.4,342.4 L257.6,344.7 L257.4,347 L258.4,349.3 L257.6,351.6 L257.4,353.9 L258.4,356.2 L257.6,358.5 L257.4,360.8 L258.4,363.1 L257.8,365.4 L258.1,367.9 L259.7,370.1 L259.5,372.8 L260.1,375.2 L261.6,377.4 L261.7,380 L261.5,382.2 L262.6,384.4 L261.9,386.7 L262,388.9 L263,391.1 L262.3,393.4 L262.4,395.6 L263.5,397.7 L263,400"/>
<path d="M238.7,169.3 L237.8,171.5 L235.8,172.8 L234.4,174.6 L233.3,176.6 L231.1,177.8 L229,179.1 L227.4,181.2 L225,182.1 L224.1,184.2 L224.5,186.6 L223.1,188.6 L222.4,190.8 L222.2,193.1 L220.2,194.3 L218.3,195.6 L217.1,197.7 L214.7,198.4 L212.8,199.8 L211.2,201.4 L212,203.6 L213,205.7 L214.8,207.4 L215.3,209.7 L214.3,212.4 L213.9,215.2 L211.5,215.4 L209.2,215.8 L207.1,217.2 L204.6,216.8 L202.3,217.3 L200.1,218 L198.2,219.4 L196.6,221.1 L195.5,223.4 L193.2,224.4 L191.8,226.3 L192.4,229.1 L191.5,231.8 L191.8,234.6"/>
<path d="M218.9,241.3 L221.3,241.1 L223.7,240.7 L225.9,239.3 L228.5,239.6 L230.8,238.9 L232.8,236.8 L235.7,236 L237.9,234.2 L240.2,233.3 L242.6,233.9 L245,233.6 L247.3,233 L249.7,232.8 L252.1,232.4 L254.3,231 L256.9,231.5 L259.2,230.7 L261.5,229.9 L264,230.5 L266.3,230.3 L268.6,229.1 L271,229.5 L273.4,229.2 L275.6,227.7 L278.2,228 L280.5,227.1 L282.7,225.9 L285.3,226.2 L287.6,225.6 L289.9,224.7 L291.7,223.4 L293.3,221.7 L294.7,220"/>
<path d="M218.9,241.3 L219.6,243.8 L221.4,245.8 L221.5,248.5 L222.4,250.9 L223.7,253.1 L226,253.9 L228.4,254.4 L230.9,254 L233.1,255.3 L235.5,255.5 L237.6,257.5 L238.4,260.4 L240.2,262.6 L242.5,263.5 L243.8,265.7 L245.7,267.1 L248.2,267.8 L249.7,269.7 L252,270.8 L254.6,270.7 L256.8,272.1 L259.1,272.8 L261.6,272.4 L263.8,273.8 L266.2,274.2 L268.6,274.4 L271,276.8 L273.4,277 L275.7,276.2 L278.1,277.2 L280.4,277 L282.8,276.8 L285,275.9 L286.9,274.6 L288.4,272.7 L290.9,272.4 L292.8,271.1 L294.7,269.7 L297.3,268.5 L299.5,266.7 L301.8,265 L304.2,264.8 L306.5,264 L308.7,262.6 L311.2,262.6 L313.6,262.3 L315.8,261.1 L318.4,261.6 L320.8,260.9 L323.1,260.2 L325.6,259.6 L327.9,258.5 L330,256.8 L332.7,256.8 L334.9,255.5 L337.3,253.1 L339.8,252.3 L342,250.8 L341.4,248.4 L342.4,246.1 L342.1,243.7 L341.4,241.3 L342.4,238.9 L342.1,236.6 L342,234.2 L343,231.9 L343.3,229.5 L343.2,226.9 L344.4,224.7"/>
<path d="M337.3,253.1 L339.2,254.6 L339.9,257.1 L341.3,259 L343.5,260.3 L344.4,262.6 L344.9,265.1 L346.5,267.1 L346.4,269.8 L347.3,272.2 L348.9,274.2 L349.1,276.8 L351.3,278.6 L354.2,279.4 L356.2,281.5 L358,282.9 L360,283.9"/>
<path d="M282.8,276.8 L282.5,279.2 L282.5,281.6 L283.4,283.9 L282.8,286.3 L283.4,288.7 L285.2,290.8 L285.2,293.5 L286.4,295.7 L287.4,298 L286.9,300.5 L287.6,302.8 L287.4,305.4 L285.7,307.4 L285.2,309.9 L284.8,312.5 L283,314.5 L282.2,317 L282,319.6 L280.5,321.8 L278.1,322.2 L275.9,323.5 L273.3,323.2 L271,324.1 L268.8,325.3 L266.2,324.9 L263.8,325.7 L261.5,326.5 L259,327.3 L256.7,328.7 L254.7,330.6 L252.1,331.2 L250.4,332.7 L249.3,334.8 L247.3,336"/></g>
<g fill="none" stroke="#0a0aff" stroke-width="1.2" stroke-linejoin="round" stroke-linecap="round"><path d="M34.5,140.7 L36,142.4 L38.2,143.1 L39.7,144.8 L41.4,146.2 L43.9,147.2 L46,149 L48.3,150.4 L50.1,152.2 L51.1,154.5 L50.9,156.8 L52,159.1 L51.8,161.4 L51.6,163.7 L52.7,166 L52.5,168.3 L50.8,170.4 L50.1,173.1 L48.3,175.2 L46.3,176.7 L45.2,179 L43.1,180.4 L41.4,182.2 L39.3,183.2 L37,183.2 L34.7,183.4 L32.7,184.8 L30.4,184.9 L27.5,185.5 L25,187.2 L22.1,187.7 L19.9,188.6 L18.3,190.6 L16,191.5"/>
<path d="M87.7,219.2 L89.7,217.9 L92,217.5 L94.3,217 L96.1,215.4 L98.4,215 L100.5,214.1 L102.4,212.4 L104.8,211.6 L107.1,210.6 L108.8,208.6 L111.2,207.7 L113.3,206.4 L114.9,204.7 L117,203.9 L119.1,202.9 L120.4,200.9 L122.6,200 L124.6,199 L126.2,197.4 L127.9,196 L129.9,194.7 L131,192.6 L133.1,191.5 L135,190.3 L136.4,188.5 L138.4,187 L140.5,185.6 L141.9,183.3 L144.1,182.1 L146,180.3 L147,177.7 L149,176 L151.7,172.6 L153,170.6 L155.1,169.4 L156.9,168 L158.3,166.1 L160.5,165.7 L162.6,165 L165.8,164 L169.1,163.9 L171.1,165.8 L173.5,167.2 L175,170 L176.7,172.6 L180,174.8 L182.1,175.7 L184.2,176.6 L186.5,177 L188.7,176.3 L191,175.7 L192.9,174.1 L195.2,173.7 L198.1,173.7 L200.9,172.5 L203.9,172.6 L206.2,171.8 L208,170 L210.5,169.5 L212.6,168.3 L214.6,166.8 L217,166.1 L220.2,166.4 L223.5,166.1 L226.8,165.7 L230,165 L232.2,161.7 L231.9,158.4 L231.1,155.2 L232.6,153.4 L234.8,152.5 L236.5,150.9 L239.2,150.1 L242,150.3 L245.3,150.3 L248.5,149.8 L249.3,147.7 L249.9,145.5 L250.2,143.3 L250.8,140.7 L251,138 L251.4,135.6 L252.8,133.5 L255.6,132.4 L258.2,130.9 L259.9,127.3 L257.4,125.7 L254.6,124.6 L253,122.9 L251.2,121.5 L249.3,120.2 L249.1,117.5 L248.4,114.9 L246.5,112.8 L245.6,110 L243.9,107.8 L242.3,105.9 L241.8,103.5 L240.4,101.5"/>
<path d="M126.2,280 L126.5,277.6 L127.2,275.3 L126.6,272.8 L127.4,270.5 L126.7,268.2 L124.9,266.4 L124.3,264.1 L123.5,261.8 L121.7,260 L121,257.7 L120.8,255 L119.3,252.7 L119.2,250 L118.5,247.4 L118.3,244.8 L119.1,242.3 L119.6,239.8 L119,237.1 L119.7,234.6 L121.9,232.9 L123.2,230.4 L125.5,228.9 L127.4,226.9 L128.7,225.1 L130.8,224.1 L132.6,222.8 L133.7,220.7 L135.8,219.7 L137.6,218.4 L139,216.7 L140.9,215.3 L142.9,214 L144.2,211.9 L146.4,210.9 L148.4,209.6 L149.7,207.5 L151.8,206.4 L153.8,204.9 L154.9,202.7 L157.1,201.4 L158.9,199.8 L160,197.6 L162.1,196.2 L163.2,193.7 L163.3,190.9 L164.6,188.5 L165.7,186.6 L165.7,184.2 L167.1,182.4 L168,180.4 L168.5,178.2 L169.9,175.7 L171,173.1 L171.2,170.4 L172.3,168"/>
<path d="M228.5,165 L227.6,167.3 L227.5,169.7 L225.6,171.8 L223.5,173.6 L222,176 L220.6,178 L219.1,179.8 L218.1,182 L217.4,184.5 L216.4,186.9 L216.6,189.6 L215.5,192 L215.4,194.4 L216.6,196.6 L216.3,199.1 L216.7,201.4 L215.6,203.4 L213.7,204.6 L212,206.1 L210.8,208 L208.7,209.7 L206.6,211.3 L205.2,213.8 L202.9,215.2 L200.7,216.6 L199.3,219 L196.9,220.2 L195,222 L193.9,224.1 L191.9,225.5 L190.3,227.1 L189.1,229.1 L187.9,231.3 L186.7,233.6 L186,236 L184.7,238 L183.4,240 L182.6,242.3 L181.2,244.3 L179.8,246.2 L179.2,248.7 L177.3,250.4 L176.2,252.6 L174.1,254.1 L171.5,254.5 L169.1,255.4 L167.1,257.1 L164.6,257.7 L162,257.9 L159.6,259.2 L156.9,259.1 L154.3,259.5 L151.8,260.3 L149.6,261.4 L147.5,262.6 L145.9,264.6 L143.4,265.2 L141.5,266.7"/>
<path d="M176.2,252.6 L178.4,254 L180,256.1 L181.7,258 L184.2,259 L185.7,261.2 L187.7,262.8 L189.4,264.5 L190.2,266.7 L191.2,268.8 L192.8,270.5 L192.4,272.9 L191.8,275.2 L192.3,277.7 L191.5,280"/>
<path d="M248.5,149.8 L250.3,151.8 L252,153.9 L254.5,155.2 L256.1,157.4 L258.1,159.1 L260.7,159.9 L262.6,161.7 L263.4,164.1 L264.8,166.1 L266.9,167.6 L268.9,169.3 L271.3,170.4 L273.4,171.6 L275.5,172.9 L278,173.3 L280,174.8 L282.4,175.9 L285.2,175.9 L287.6,177.3 L290.2,178 L294.1,179.7 L296.2,181.1 L298.2,182.6 L300.5,183.6 L300.8,186.2 L301,188.8 L301.8,191.3 L301.3,193.8 L300.8,196.4 L301.3,199 L300.5,201.5 L299,203.3 L298.4,205.6 L296.5,207.2 L295.4,209.2 L295,211.9 L293.5,214.3 L292.8,216.9 L293.6,219.4 L293.1,222 L293.3,224.6 L294.3,227.1 L294.1,229.7 L292.8,231.6 L292.5,234 L290.8,235.8 L289.8,237.8 L289,240 L287.5,241.8 L286.2,243.7 L285.5,246.1 L283.8,247.7 L281.7,249.4 L280.4,251.9 L277.9,253.3 L276.2,255.4 L274.4,257.3 L271.9,258.3 L269.9,259.8 L268.3,262 L265.9,263.1 L263.8,265.5 L262.1,268.2"/>
<path d="M264.2,164 L265,166.2 L266.8,167.8 L267.3,170.1 L268.5,172 L269.6,174 L269.7,176.4 L270.5,178.5 L268.5,181 L267.5,183.1 L266.4,185.1 L266.4,187.6 L264.9,189.5 L263.9,191.5 L263.3,193.8 L261.9,195.9 L260.4,197.9 L259.9,200.5 L258,202.3 L256.6,204.4 L255.6,206.7 L254.2,208.7 L252.8,210.8 L252.2,213.4 L250.3,215.1 L248.9,217.2 L247.9,219.5 L246.2,221.4 L244.6,223.4 L243.7,225.9 L241.7,227.5 L240.3,229.7 L239.4,231.9 L237.6,233.4 L236.2,235.3 L235.6,237.7 L233.7,239.2 L232.3,241.1 L231.7,243.5 L230,245.1 L227.6,245.8 L225.6,247.5 L223,247.8 L220.7,248.8 L218.5,250 L217,251.8 L215.7,253.7 L215,256.1 L213.3,257.7 L213,260.3 L213.8,262.8 L213.3,265.4 L214.9,267.1 L217.2,268.1 L218.5,270.2 L220.3,271.7 L222.3,273.1"/>
<path d="M359.5,250.3 L361.1,248.3 L363.6,247.5 L365.8,246.3 L367.2,243.9 L369.7,243.1 L371.9,241.9 L373.6,240 L376,239.5 L378.3,239 L380.3,237.2 L382.9,237.3 L385.2,236.8 L387.2,235 L389.7,234.9 L392.1,234 L393.6,231.7 L396.3,231.3 L398.5,230.1 L400.1,227.9 L402.6,227.2 L405.3,226.3 L407.7,224.6 L409.7,226.1 L411.7,227.6 L414.1,228.5 L416.4,227.8 L418.7,226.9 L420.5,224.9 L423,224.6 L425.2,223.7 L426.5,221.5 L429,221 L430.8,219.5 L433.3,216.9"/>
<path d="M434.1,217.8 L432.8,220.7 L432.1,223.7 L432.7,226 L431.3,228.2 L430.7,230.4 L431.9,232.8 L430.4,234.9 L429.9,237.1 L430.2,239.4 L429.1,241.7 L428.1,244 L428.6,246.8 L426.7,248.8 L426.2,251.3 L426,253.7 L423.9,255.1 L422.8,257 L422.3,259.2 L420,259.1 L417.8,259.2 L415.6,260 L412.9,260.5 L410.3,261.2 L407.9,262.6 L405.7,263.3 L403.6,264.2 L402.2,266.5 L399.6,266.3 L397.7,267.7 L396.1,269.7 L393.4,269.9 L391.3,271.1 L389.9,273.6 L387.4,274.1 L385.1,274.3 L383.4,276.2 L380.9,275.6 L378.7,276.2 L377,278.1 L374.6,277.9 L372.3,278.1 L370.6,280.1 L368.1,279.4 L365.9,280.1 L364.2,282 L361.8,281.8 L359.6,282 L357.8,283.9 L355.3,283.2 L353.2,284 L351.4,285.8 L349,285.6 L346.4,285.7 L344.1,287.5 L341.2,286.6 L338.7,287.3 L336.2,288.2 L333.9,288.2 L331.7,289 L329.8,290.7 L327.3,289.9 L325.1,290.7 L323.2,292.4 L320.8,292.1 L321.3,294.4 L323.3,296 L323.3,298.5 L323.3,301.1 L324.7,303.5 L323.5,306.2 L324,308.8 L324.6,311.3 L324.3,313.9 L324.8,316.4 L326.3,318.9 L325,321.6 L325.9,324.1 L327.4,326 L326.6,328.5 L327.6,330.6 L329.3,332.4 L328.5,334.9 L329.7,336.9 L329.2,339.9 L327.2,342.1 L325,342.7 L323.2,344.6 L320.8,344.6 L319.3,346.4 L318.2,348.5 L317.6,351.4 L318.2,354.2 L318.5,357"/>
<path d="M320.8,292.1 L318.3,293.4 L316.1,294.7 L313.5,294 L311.1,294.2 L309,296.1 L306.5,295.7 L304.2,294.9 L301.7,296.1 L299.5,294.7 L297.1,294.3 L294.7,294.6 L292.3,294.6 L289.9,294.8 L287.6,295.7 L285.1,296.6 L282.6,297.6 L280.9,300.1 L278.1,300.5 L275.6,300.5 L273.6,302.3 L270.9,301.5 L268.6,301.9 L266.3,302.8 L263.8,303 L261.4,303.5 L259.4,305.5 L256.8,305.2 L254.9,306.5 L254.3,309 L251.7,309.6 L250.2,311.2 L249.5,313.8 L247.3,314.7 L244.8,315.2 L242.9,317.4 L240,317.1 L237.7,318.1 L235.5,319.4 L233,319.9 L230.6,320.9 L228.8,323.1 L225.9,322.7 L223.7,324.1 L221,323.9 L219,322"/>
<path d="M329.7,342.1 L332.4,343.2 L333.8,345.7 L336.2,347.2 L338.6,347.5 L340.1,349.5 L342.1,350.7 L344.7,350.6 L346.4,352.3 L348.3,353.7 L350.9,353.6 L352.4,355.7 L354.4,356.8 L356.7,357.4 L358.4,359 L360.3,360.4 L362.9,360.6 L364.4,362.6 L366.7,364.8 L369.5,366.4 L367.2,368.8 L365.6,371.6 L364.8,374 L362.3,375.3 L360.9,377.2 L359.7,379.4 L359.5,381.9 L359.8,384.4 L361.2,386.7 L360.7,389.3 L362.2,391.2 L364.8,391.9 L365.8,394.4 L367.6,395.9 L369.6,397.2 L371.3,398.8 L373.3,399.9 L375.9,400.1 L377.2,402.3 L379.4,403.1 L381.9,403.9 L383.1,406.4 L385.1,407.8 L387.3,409"/>
<path d="M423.3,260 L422.7,262.5 L422.2,265.1 L423.2,267.8 L422.1,270.3 L419.8,272.6 L418.2,275.4 L418.5,278 L419.1,280.6 L420.9,282.9 L420.8,285.6 L419.5,287.6 L419.8,290.2 L417.8,291.9 L417,294 L417.2,296.6 L415.6,298.5 L414.6,301 L415.1,303.8 L413.3,306.1 L413.1,308.7 L411.5,310.9 L408.7,311.4 L406.7,313 L405.3,315.5 L402.8,316.4 L400.6,318.1 L399.5,320.8 L396.7,321.9 L395.1,324.1 L397.4,325.2 L398.2,327.8 L400.3,329.2 L402.8,330.6 L403.8,333.4 L405.8,335.2 L407.9,336.9 L410.2,339.3 L413,341 L415.1,342.2 L415.6,344.8 L417.2,346.4 L418.9,347.9 L420.6,349.8 L422.7,351.1 L425.3,351.7 L426.8,353.8 L428.2,355.6 L430.5,356.4 L431.2,358.9 L432.9,360.3 L434.7,361.7 L437.3,361.7 L439.7,360.9 L441.9,359.4 L444.5,359.7 L446.9,359.3 L448.9,357.6 L451.5,358.3 L453.8,357.3 L455.8,355.7 L458.3,355.8 L460.6,355 L462.4,353.1 L465.2,353.4 L467.3,352 L469.1,350.2 L471.9,350.4 L474,349.1 L476.1,347.9 L479.2,347.2 L481.9,345.4"/>
<path d="M434.7,361.7 L432.6,363.1 L431.1,365.3 L428.6,366.3 L426.6,367.8 L424.8,369.6 L422.7,370.6 L420.7,371.7 L419.2,373.6 L416.8,374.1 L415,375.5 L415,378.1 L413.7,380.4 L413.3,382.9 L413,385.4 L411.8,387.2 L410.8,389.2 L410,391.3 L409.5,393.7 L409.3,396.2 L409.7,398.7 L409,401.1 L406.9,402.9 L405.1,405.1 L401.1,405.1"/>
<path d="M324.9,417.9 L328.2,416.9 L330.8,419.1 L332.7,421.5 L335.5,422.6 L337,424.5 L339,425.7 L341.4,426.2 L342.6,429.7 L344.8,431 L347.3,430.9 L349.3,432.9 L352.1,433.3 L355.2,433 L356.8,435.6 L359.3,435.7 L361.5,434.4 L364.1,434.7 L366.3,433.3 L368.3,431.2 L371,432.1 L372.3,434.3 L374.6,435.6 L374.2,438.2 L375.7,440.4 L378.6,441 L379.3,443.9 L379.3,446.4 L380.5,448.6 L382.8,451 L386.4,448.6 L388.8,446.3 L392.3,447.5 L394.7,451 L398,451.5 L399.4,454.6 L401.8,455.1 L404.1,454.6 L406.8,455 L408.9,453.4 L411.7,452.7 L413.3,456 L416,455.7 L418.7,454.8 L420.7,456.9 L422.8,458.5 L425.4,459.3 L426.8,461.4 L429.2,462 L431.4,462.8 L433.9,462.6 L435.5,460.8 L437.3,459.3 L440.2,459.1 L442,456.9 L444.1,455 L446.9,457.3 L449.1,455.7 L451.6,454.3 L453.7,457.2 L456.2,456.2"/></g>
</g>
<ellipse cx="332.1" cy="81.6" rx="2.7" ry="3.4" transform="rotate(30 332.1 81.6)" fill="#2a2a2a"/>
<path d="M11,154 L13.5,153 L15.2,150.8 L17.8,149.9 L20.2,148.9 L22,146.7 L24.5,145.7 L27,144.7 L28.7,142.5 L31.3,141.6 L33.5,140.2 L35.5,138.4 L38.1,137.5 L40.6,136.5 L42.4,134.3 L45,133.4 L47.5,132.4 L49.3,130.2 L51.9,129.3 L54.4,128.3 L56.2,126.1 L58.8,125.2 L61.1,123.8 L63.1,121.9 L65.7,121 L68.1,119.9 L69.9,117.7 L72.5,116.8 L74.9,115.6 L76.7,113.4 L79.3,112.5 L81.8,111.4 L83.8,109.6 L86.4,108.7 L89.1,108 L91.3,106.2 L94.1,105.8 L96.6,104.7 L95.8,101.8 L96,98.7 L98.6,97.4 L102.6,98.1 L103,101.3 L106.8,100.9 L110.5,99.7 L113.5,99 L116.5,98.4 L119.2,96.7 L122.3,96.4 L122.7,100.1 L123.9,103.7 L122.9,107.1 L122.3,110.6 L123.8,113 L124.1,115.9 L125.2,118.5 L128.1,120.6 L130.2,123.4 L133.4,123.9 L136.6,123.1 L139.8,123.9 L143,123.8 L142.3,120.9 L142.8,118 L142.4,115.1 L145.4,113.3 L148.8,112.7 L151.9,111.2 L155,111.8 L157.7,113.6 L160.6,114.7 L163.7,115.5 L166.9,116.5 L170.2,117.4 L173.6,117.9 L176.4,119.9 L179.5,121.4 L179.7,124.8 L178.6,128 L178.5,131.3 L182,131.3 L185.4,132.3 L188.5,130.9 L191.3,128.9 L192.3,133.3 L194.9,132.6 L197.2,131.3 L200,130.2 L202.6,128.9 L205.1,127.3 L208.2,125.8 L211,123.8 L213.8,122.1 L217,121.4 L219.6,119.6 L221.6,117 L224.5,115.7 L226.8,113.5 L228.4,111 L231,109.4 L232.9,107.3 L234.3,104.6 L236.9,103 L238.7,100.7 L236.2,96.6 L239.3,96.8 L242.4,96.6 L245.5,95.6 L248.6,96.4 L251.7,95.9 L252.9,100.4 L256,101 L259.2,101 L261.4,99.3 L264.1,98.5 L262.1,94.5 L260.1,91.3 L259.2,87.6 L258.9,84.1 L258.2,80.7 L261.1,79.7 L263.7,78.2 L266.1,76.2 L269,75.4 L271.8,75.2 L274.4,74.1 L277.2,74.6 L279.9,73.8 L280.2,76.7 L279,79.5 L279,82.3 L278.9,85.2 L281.6,85.4 L284.2,85 L286.8,84.7 L290,85.4 L293.3,85.4 L296.6,85.6 L297.5,82.7 L297.6,79.7 L299.2,77.4 L301.9,76 L303.6,73.8 L305.5,71 L308.1,68.9 L312.4,69.5 L315.7,71.2 L318.3,73.8 L318.7,76.8 L319.3,79.7 L318.5,84 L315.8,84.1 L313.2,84.8 L310.5,84.5 L311.4,87.8 L314.9,87.7 L318.3,88.6 L321.3,88.2 L324.3,87.6 L327,90 L330.2,91.6 L331.8,89.3 L334.5,88 L336.2,85.7 L338.1,83.7 L339.8,81.3 L340.7,78.5 L342,75.8 L345.6,72.8 L347.7,74.5 L350.1,75.7 L351.9,77.8 L353.3,81.3 L354.8,84.7 L353.4,87.5 L352.8,90.6 L351.9,93.5 L353.5,96.4 L355.8,98.8 L357.8,101.4 L358.3,105 L359.8,108.3 L362.4,107.5 L365.1,108.1 L367.7,107.3 L370.4,108.4 L372.6,110.3 L372.9,113.3 L373.7,116.2 L373.6,119.2 L376.2,119.2 L378.9,118.7 L381.5,119.2 L384.4,118.2 L387.4,117.2 L390.6,118 L393.9,117.8 L397.2,118.2 L399.9,117 L402.1,114.9 L404.4,112.9 L407.1,111.7 L410.1,113.9 L413,116.2 L413.5,119.1 L415.1,121.6 L416.4,124.2 L417,127.1 L419.5,128.5 L422.1,129.7 L424.1,132 L426.8,133 L430.8,136 L433.8,136.3 L436.7,135.4 L439.6,134.8 L442.6,135 L445,137.6 L445.7,140.3 L445.6,143 L448,141.3 L450.5,139.7 L452.9,142.5 L456,144.6 L453.2,148 L451.7,150.6 L451.2,153.5 L450.7,156.4 L449.5,159 L448.9,161.8 L448.4,164.6 L447.3,167.3 L445.9,170.5 L444.2,173.6 L442.9,176.6 L442.8,179.9 L442.2,183.1 L441,186.2 L442,189.4 L442.6,192.6 L440.4,194.1 L439,196.4 L437.3,198.4 L434.8,199.5 L433.5,201.9 L431.5,203.6 L430.5,206.1 L430.7,208.9 L430,211.5 L431.1,214.2 L433.3,216.1 L435,218.4 L436.3,221 L439.5,221.3 L442.6,221.7 L445.7,222.5 L448.5,223.1 L451.3,223.8 L453.9,225.4 L456.8,225.7 L459.6,225.8 L462.2,227 L465.1,226.7 L467.8,227.3 L470.6,228.1 L473.5,227.7 L476.4,227.9 L479.1,229 L482,228.8 L483.8,231 L485.2,233.6 L487.9,233.5 L490.5,233.7 L493.1,234.2 L494.9,236.5 L496.5,238.9 L497.8,241.5 L499,244.1 L499.9,246.7 L500.5,249.5 L503,251.4 L505.2,253.7 L507.9,254.6 L510.8,254.1 L513.5,254.7 L512.3,257.8 L509.5,260 L506.4,261.8 L504.7,264.6 L504.3,267.9 L502.8,270.8 L503.5,273.4 L505.5,275.4 L506.6,277.7 L507.6,280.2 L510.4,280.5 L513.1,281.2 L515.7,282.5 L518.7,282.3 L521.4,283 L524.1,283.8 L526.8,286.5 L528.9,289.7 L529,293.3 L530.1,296.8 L531.2,301.5 L529.5,304.9 L528.9,308.6 L531,310.8 L532.4,313.7 L534.8,315.7 L533.1,318.2 L531.2,320.5 L528.3,321.2 L525.3,321.3 L522.3,320.9 L519.4,321.7 L517.1,323.6 L514.7,325.2 L512.6,327.8 L509.9,329.9 L508.2,333.3 L507.6,337 L506.5,339.4 L504.7,341.5 L504,344.1 L503.5,347.7 L502.8,351.2 L500.8,354 L500.1,356.6 L499.1,359.1 L496.3,356.8 L494,354 L491.6,352.2 L488.5,351.7 L486,350 L483.6,348.8 L481,348.5 L478.3,350.1 L475.5,351.5 L475.3,354.2 L474.5,356.7 L473.8,359.2 L471.5,361.3 L468.8,362.7 L466.2,364.4 L466,367.7 L464.9,370.8 L462.5,373 L461,375.9 L460.4,378.5 L459.3,380.9 L459.6,383.7 L458.5,386.2 L457.2,388.6 L457.2,391.4 L455.9,393.8 L453,395.4 L450.8,397.7 L450,400.7 L448.6,403.6 L448.2,406.7 L447.4,409.3 L446,411.7 L445.6,414.4 L449.5,416.9 L447.8,419.2 L447.3,422.2 L445.6,424.6 L445.6,427.2 L446.9,429.7 L446.9,432.3 L449.2,435.2 L452.1,437.4 L454.6,440 L457.2,442.6 L459.6,443.9 L461.5,446 L463.6,447.7 L465,450.1 L465.5,452.8 L466,455.5 L467.4,457.9 L467.9,462.7 L466.6,465.1 L466.7,467.9 L465.4,470.2 L464.3,472.6 L464.6,475.4 L463.5,477.8 L462.9,480.3 L460.7,482.4 L457.9,483.6 L455.4,485.3 L452.7,484.9 L450.4,483.6 L447.9,482.8 L445.6,484.1 L442.9,484.4 L440.4,485.3 L438.1,487 L435.3,487.7 L432.6,488.7 L430.3,490.3 L427.2,490.8 L424,491.1 L421,492.7 L417.8,492.8 L415.1,493.7 L413,495.7 L410.3,496.5 L408.7,493.2 L406.5,490.3 L406,486.5 L405.3,482.8 L402.5,481.5 L400.3,479.3 L397.7,477.7 L394.9,476.5 L392.8,474.2 L390.2,472.7 L387.9,470.5 L386.5,467.7 L386.2,463.9 L385.2,460.2 L382.8,457.6 L380.2,455.2 L376.4,455.7 L372.7,455.2 L369.5,454 L365.9,454.1 L362.7,452.7 L361.7,450 L359.7,447.9 L359,445.1 L357.6,442.7 L354.9,442.4 L352.7,440.8 L350.1,440.2 L345.1,439.6 L342.5,438.4 L340,437.3 L337.2,436.6 L333.9,436.4 L330.6,436.3 L327.3,436.6 L323.4,434.7 L323.4,432 L322.2,429.5 L322.4,426.8 L322.7,424.2 L321.9,421.5 L322.4,418.9 L325.1,416.7 L327.3,414 L326.4,409 L324.6,405.9 L322.4,403.1 L319.5,401.9 L316.5,401.1 L314.5,398.2 L316.2,394.9 L317.5,391.3 L317.5,388.3 L318.5,385.4 L321.4,381.4 L320.4,378 L320.4,374.5 L324.4,371.6 L324.4,368.1 L325.4,364.7 L328.3,361.7 L326.4,359.7 L323.9,358.6 L321.2,357.9 L318.5,357.4 L315.5,359.7 L313.4,361.5 L312,364 L309.6,365.6 L306.5,366.7 L303.9,368.8 L300.7,369.6 L299.5,373 L298.7,376.5 L299.7,379.4 L299.5,382 L300.2,384.7 L299.4,387.4 L299.7,390 L295.4,392.2 L292.6,392.7 L289.9,393.6 L287.5,395.1 L284.6,395.4 L281.8,396.3 L279.4,398.1 L276.4,398.4 L273.8,399.8 L271.1,401.4 L267.9,401.6 L265.1,403 L262.3,403.3 L259.7,402.1 L256.9,402.1 L254.2,402 L251.6,401.1 L248.8,400.7 L246,400.9 L243.4,399.8 L240.1,399.3 L236.8,399.6 L233.6,398.7 L230.4,396.4 L227.1,394.4 L226.4,391.5 L224.9,388.9 L226.1,385.4 L228.2,382.4 L230.4,380.3 L232.2,377.7 L234.7,375.9 L234.8,372.6 L234.7,369.4 L232.8,367 L230.4,365.1 L227.3,363.3 L224.9,360.7 L225.4,357.8 L225.1,354.9 L226,352.1 L227.2,348.9 L228.2,345.6 L227.9,342.9 L226.8,340.5 L226,338 L229.3,335.8 L228.2,332.5 L223.9,333.6 L223.6,330.9 L222.5,328.5 L221.7,326 L219.8,323.9 L217.4,322.4 L215.2,320.6 L213.3,318.4 L210.9,317 L208.7,315.2 L205.7,315.1 L202.9,315.9 L200,316.3 L197.3,315.7 L194.5,316 L191.8,315.9 L188.9,315.1 L185.9,315.3 L182.8,315.5 L179.9,314.7 L177.3,315.3 L174.7,316.3 L171.8,316 L169.3,317 L168.5,320.7 L166.9,324.1 L163.4,321.8 L161.8,319.6 L161.4,316.8 L159.8,314.7 L159.3,312.1 L160.3,309.5 L159.8,306.9 L159.3,304.3 L159.8,301.7 L159.5,299 L158.8,296.4 L159.4,293.6 L158.6,291 L156.3,289.3 L155,286.7 L152.7,285.1 L150,285.2 L147.6,283.9 L144.9,284.2 L142.2,284.2 L139.7,283.4 L138.4,280.7 L137.3,278 L132.6,276.8 L130.3,279.5 L127.9,282 L125.1,281.7 L122.4,282.6 L119.6,282.7 L117.9,280.3 L115.4,278.6 L113.1,276.8 L111.3,274.4 L110,272.1 L108.6,269.8 L107.8,267.3 L107.4,264.4 L106.8,261.4 L107.4,258.4 L106.6,255.5 L105.4,252.4 L105.5,249 L104.2,246 L103,243 L103.1,239.6 L101.8,236.6 L99.9,234.4 L99.1,231.6 L97.1,229.5 L95.6,227.3 L95.2,224.5 L93.4,222.5 L92.4,220 L88.1,218.7 L85.6,220 L83,221.3 L80,221.6 L77.7,223.4 L75,224.3 L72.1,225.3 L69.8,227.5 L67.2,229.1 L64.2,229.8 L61.8,231.8 L60.2,234.5 L57.6,236.5 L56.2,239.3 L54.1,237.7 L52.8,235.2 L50.4,233.8 L48.7,231.8 L46.7,229.5 L43.9,228.2 L41.5,226.4 L39.4,224.3 L37.8,222.1 L36.3,219.8 L35.6,217 L33.7,215 L30.8,214.3 L28.3,212.6 L25.2,212.4 L22.5,211.2 L21.9,208.2 L20,205.7 L18.9,202.9 L18,200 L17.2,197.2 L16.6,194.4 L16.8,191.4 L15.7,188.7 L15.7,185.9 L16.8,183.2 L16.3,180.3 L16.9,177.5 L16.5,174.8 L14.8,172.6 L14.2,170 L14.2,167.2 L12.8,164.7 L12.4,162 L12.6,159.2 L11.2,156.7 Z" fill="none" stroke="#272727" stroke-width="1.8" stroke-linejoin="round"/>
</g>
<g transform="translate(640,0)">
<path d="M11,154 L13.5,153 L15.2,150.8 L17.8,149.9 L20.2,148.9 L22,146.7 L24.5,145.7 L27,144.7 L28.7,142.5 L31.3,141.6 L33.5,140.2 L35.5,138.4 L38.1,137.5 L40.6,136.5 L42.4,134.3 L45,133.4 L47.5,132.4 L49.3,130.2 L51.9,129.3 L54.4,128.3 L56.2,126.1 L58.8,125.2 L61.1,123.8 L63.1,121.9 L65.7,121 L68.1,119.9 L69.9,117.7 L72.5,116.8 L74.9,115.6 L76.7,113.4 L79.3,112.5 L81.8,111.4 L83.8,109.6 L86.4,108.7 L89.1,108 L91.3,106.2 L94.1,105.8 L96.6,104.7 L95.8,101.8 L96,98.7 L98.6,97.4 L102.6,98.1 L103,101.3 L106.8,100.9 L110.5,99.7 L113.5,99 L116.5,98.4 L119.2,96.7 L122.3,96.4 L122.7,100.1 L123.9,103.7 L122.9,107.1 L122.3,110.6 L123.8,113 L124.1,115.9 L125.2,118.5 L128.1,120.6 L130.2,123.4 L133.4,123.9 L136.6,123.1 L139.8,123.9 L143,123.8 L142.3,120.9 L142.8,118 L142.4,115.1 L145.4,113.3 L148.8,112.7 L151.9,111.2 L155,111.8 L157.7,113.6 L160.6,114.7 L163.7,115.5 L166.9,116.5 L170.2,117.4 L173.6,117.9 L176.4,119.9 L179.5,121.4 L179.7,124.8 L178.6,128 L178.5,131.3 L182,131.3 L185.4,132.3 L188.5,130.9 L191.3,128.9 L192.3,133.3 L194.9,132.6 L197.2,131.3 L200,130.2 L202.6,128.9 L205.1,127.3 L208.2,125.8 L211,123.8 L213.8,122.1 L217,121.4 L219.6,119.6 L221.6,117 L224.5,115.7 L226.8,113.5 L228.4,111 L231,109.4 L232.9,107.3 L234.3,104.6 L236.9,103 L238.7,100.7 L236.2,96.6 L239.3,96.8 L242.4,96.6 L245.5,95.6 L248.6,96.4 L251.7,95.9 L252.9,100.4 L256,101 L259.2,101 L261.4,99.3 L264.1,98.5 L262.1,94.5 L260.1,91.3 L259.2,87.6 L258.9,84.1 L258.2,80.7 L261.1,79.7 L263.7,78.2 L266.1,76.2 L269,75.4 L271.8,75.2 L274.4,74.1 L277.2,74.6 L279.9,73.8 L280.2,76.7 L279,79.5 L279,82.3 L278.9,85.2 L281.6,85.4 L284.2,85 L286.8,84.7 L290,85.4 L293.3,85.4 L296.6,85.6 L297.5,82.7 L297.6,79.7 L299.2,77.4 L301.9,76 L303.6,73.8 L305.5,71 L308.1,68.9 L312.4,69.5 L315.7,71.2 L318.3,73.8 L318.7,76.8 L319.3,79.7 L318.5,84 L315.8,84.1 L313.2,84.8 L310.5,84.5 L311.4,87.8 L314.9,87.7 L318.3,88.6 L321.3,88.2 L324.3,87.6 L327,90 L330.2,91.6 L331.8,89.3 L334.5,88 L336.2,85.7 L338.1,83.7 L339.8,81.3 L340.7,78.5 L342,75.8 L345.6,72.8 L347.7,74.5 L350.1,75.7 L351.9,77.8 L353.3,81.3 L354.8,84.7 L353.4,87.5 L352.8,90.6 L351.9,93.5 L353.5,96.4 L355.8,98.8 L357.8,101.4 L358.3,105 L359.8,108.3 L362.4,107.5 L365.1,108.1 L367.7,107.3 L370.4,108.4 L372.6,110.3 L372.9,113.3 L373.7,116.2 L373.6,119.2 L376.2,119.2 L378.9,118.7 L381.5,119.2 L384.4,118.2 L387.4,117.2 L390.6,118 L393.9,117.8 L397.2,118.2 L399.9,117 L402.1,114.9 L404.4,112.9 L407.1,111.7 L410.1,113.9 L413,116.2 L413.5,119.1 L415.1,121.6 L416.4,124.2 L417,127.1 L419.5,128.5 L422.1,129.7 L424.1,132 L426.8,133 L430.8,136 L433.8,136.3 L436.7,135.4 L439.6,134.8 L442.6,135 L445,137.6 L445.7,140.3 L445.6,143 L448,141.3 L450.5,139.7 L452.9,142.5 L456,144.6 L453.2,148 L451.7,150.6 L451.2,153.5 L450.7,156.4 L449.5,159 L448.9,161.8 L448.4,164.6 L447.3,167.3 L445.9,170.5 L444.2,173.6 L442.9,176.6 L442.8,179.9 L442.2,183.1 L441,186.2 L442,189.4 L442.6,192.6 L440.4,194.1 L439,196.4 L437.3,198.4 L434.8,199.5 L433.5,201.9 L431.5,203.6 L430.5,206.1 L430.7,208.9 L430,211.5 L431.1,214.2 L433.3,216.1 L435,218.4 L436.3,221 L439.5,221.3 L442.6,221.7 L445.7,222.5 L448.5,223.1 L451.3,223.8 L453.9,225.4 L456.8,225.7 L459.6,225.8 L462.2,227 L465.1,226.7 L467.8,227.3 L470.6,228.1 L473.5,227.7 L476.4,227.9 L479.1,229 L482,228.8 L483.8,231 L485.2,233.6 L487.9,233.5 L490.5,233.7 L493.1,234.2 L494.9,236.5 L496.5,238.9 L497.8,241.5 L499,244.1 L499.9,246.7 L500.5,249.5 L503,251.4 L505.2,253.7 L507.9,254.6 L510.8,254.1 L513.5,254.7 L512.3,257.8 L509.5,260 L506.4,261.8 L504.7,264.6 L504.3,267.9 L502.8,270.8 L503.5,273.4 L505.5,275.4 L506.6,277.7 L507.6,280.2 L510.4,280.5 L513.1,281.2 L515.7,282.5 L518.7,282.3 L521.4,283 L524.1,283.8 L526.8,286.5 L528.9,289.7 L529,293.3 L530.1,296.8 L531.2,301.5 L529.5,304.9 L528.9,308.6 L531,310.8 L532.4,313.7 L534.8,315.7 L533.1,318.2 L531.2,320.5 L528.3,321.2 L525.3,321.3 L522.3,320.9 L519.4,321.7 L517.1,323.6 L514.7,325.2 L512.6,327.8 L509.9,329.9 L508.2,333.3 L507.6,337 L506.5,339.4 L504.7,341.5 L504,344.1 L503.5,347.7 L502.8,351.2 L500.8,354 L500.1,356.6 L499.1,359.1 L496.3,356.8 L494,354 L491.6,352.2 L488.5,351.7 L486,350 L483.6,348.8 L481,348.5 L478.3,350.1 L475.5,351.5 L475.3,354.2 L474.5,356.7 L473.8,359.2 L471.5,361.3 L468.8,362.7 L466.2,364.4 L466,367.7 L464.9,370.8 L462.5,373 L461,375.9 L460.4,378.5 L459.3,380.9 L459.6,383.7 L458.5,386.2 L457.2,388.6 L457.2,391.4 L455.9,393.8 L453,395.4 L450.8,397.7 L450,400.7 L448.6,403.6 L448.2,406.7 L447.4,409.3 L446,411.7 L445.6,414.4 L449.5,416.9 L447.8,419.2 L447.3,422.2 L445.6,424.6 L445.6,427.2 L446.9,429.7 L446.9,432.3 L449.2,435.2 L452.1,437.4 L454.6,440 L457.2,442.6 L459.6,443.9 L461.5,446 L463.6,447.7 L465,450.1 L465.5,452.8 L466,455.5 L467.4,457.9 L467.9,462.7 L466.6,465.1 L466.7,467.9 L465.4,470.2 L464.3,472.6 L464.6,475.4 L463.5,477.8 L462.9,480.3 L460.7,482.4 L457.9,483.6 L455.4,485.3 L452.7,484.9 L450.4,483.6 L447.9,482.8 L445.6,484.1 L442.9,484.4 L440.4,485.3 L438.1,487 L435.3,487.7 L432.6,488.7 L430.3,490.3 L427.2,490.8 L424,491.1 L421,492.7 L417.8,492.8 L415.1,493.7 L413,495.7 L410.3,496.5 L408.7,493.2 L406.5,490.3 L406,486.5 L405.3,482.8 L402.5,481.5 L400.3,479.3 L397.7,477.7 L394.9,476.5 L392.8,474.2 L390.2,472.7 L387.9,470.5 L386.5,467.7 L386.2,463.9 L385.2,460.2 L382.8,457.6 L380.2,455.2 L376.4,455.7 L372.7,455.2 L369.5,454 L365.9,454.1 L362.7,452.7 L361.7,450 L359.7,447.9 L359,445.1 L357.6,442.7 L354.9,442.4 L352.7,440.8 L350.1,440.2 L345.1,439.6 L342.5,438.4 L340,437.3 L337.2,436.6 L333.9,436.4 L330.6,436.3 L327.3,436.6 L323.4,434.7 L323.4,432 L322.2,429.5 L322.4,426.8 L322.7,424.2 L321.9,421.5 L322.4,418.9 L325.1,416.7 L327.3,414 L326.4,409 L324.6,405.9 L322.4,403.1 L319.5,401.9 L316.5,401.1 L314.5,398.2 L316.2,394.9 L317.5,391.3 L317.5,388.3 L318.5,385.4 L321.4,381.4 L320.4,378 L320.4,374.5 L324.4,371.6 L324.4,368.1 L325.4,364.7 L328.3,361.7 L326.4,359.7 L323.9,358.6 L321.2,357.9 L318.5,357.4 L315.5,359.7 L313.4,361.5 L312,364 L309.6,365.6 L306.5,366.7 L303.9,368.8 L300.7,369.6 L299.5,373 L298.7,376.5 L299.7,379.4 L299.5,382 L300.2,384.7 L299.4,387.4 L299.7,390 L295.4,392.2 L292.6,392.7 L289.9,393.6 L287.5,395.1 L284.6,395.4 L281.8,396.3 L279.4,398.1 L276.4,398.4 L273.8,399.8 L271.1,401.4 L267.9,401.6 L265.1,403 L262.3,403.3 L259.7,402.1 L256.9,402.1 L254.2,402 L251.6,401.1 L248.8,400.7 L246,400.9 L243.4,399.8 L240.1,399.3 L236.8,399.6 L233.6,398.7 L230.4,396.4 L227.1,394.4 L226.4,391.5 L224.9,388.9 L226.1,385.4 L228.2,382.4 L230.4,380.3 L232.2,377.7 L234.7,375.9 L234.8,372.6 L234.7,369.4 L232.8,367 L230.4,365.1 L227.3,363.3 L224.9,360.7 L225.4,357.8 L225.1,354.9 L226,352.1 L227.2,348.9 L228.2,345.6 L227.9,342.9 L226.8,340.5 L226,338 L229.3,335.8 L228.2,332.5 L223.9,333.6 L223.6,330.9 L222.5,328.5 L221.7,326 L219.8,323.9 L217.4,322.4 L215.2,320.6 L213.3,318.4 L210.9,317 L208.7,315.2 L205.7,315.1 L202.9,315.9 L200,316.3 L197.3,315.7 L194.5,316 L191.8,315.9 L188.9,315.1 L185.9,315.3 L182.8,315.5 L179.9,314.7 L177.3,315.3 L174.7,316.3 L171.8,316 L169.3,317 L168.5,320.7 L166.9,324.1 L163.4,321.8 L161.8,319.6 L161.4,316.8 L159.8,314.7 L159.3,312.1 L160.3,309.5 L159.8,306.9 L159.3,304.3 L159.8,301.7 L159.5,299 L158.8,296.4 L159.4,293.6 L158.6,291 L156.3,289.3 L155,286.7 L152.7,285.1 L150,285.2 L147.6,283.9 L144.9,284.2 L142.2,284.2 L139.7,283.4 L138.4,280.7 L137.3,278 L132.6,276.8 L130.3,279.5 L127.9,282 L125.1,281.7 L122.4,282.6 L119.6,282.7 L117.9,280.3 L115.4,278.6 L113.1,276.8 L111.3,274.4 L110,272.1 L108.6,269.8 L107.8,267.3 L107.4,264.4 L106.8,261.4 L107.4,258.4 L106.6,255.5 L105.4,252.4 L105.5,249 L104.2,246 L103,243 L103.1,239.6 L101.8,236.6 L99.9,234.4 L99.1,231.6 L97.1,229.5 L95.6,227.3 L95.2,224.5 L93.4,222.5 L92.4,220 L88.1,218.7 L85.6,220 L83,221.3 L80,221.6 L77.7,223.4 L75,224.3 L72.1,225.3 L69.8,227.5 L67.2,229.1 L64.2,229.8 L61.8,231.8 L60.2,234.5 L57.6,236.5 L56.2,239.3 L54.1,237.7 L52.8,235.2 L50.4,233.8 L48.7,231.8 L46.7,229.5 L43.9,228.2 L41.5,226.4 L39.4,224.3 L37.8,222.1 L36.3,219.8 L35.6,217 L33.7,215 L30.8,214.3 L28.3,212.6 L25.2,212.4 L22.5,211.2 L21.9,208.2 L20,205.7 L18.9,202.9 L18,200 L17.2,197.2 L16.6,194.4 L16.8,191.4 L15.7,188.7 L15.7,185.9 L16.8,183.2 L16.3,180.3 L16.9,177.5 L16.5,174.8 L14.8,172.6 L14.2,170 L14.2,167.2 L12.8,164.7 L12.4,162 L12.6,159.2 L11.2,156.7 Z" fill="#fdb064"/>
<g clip-path="url(#clipBE)">
<path fill="#e5533a" d="M150,292 L156.4,285.1 L166.7,277.4 L176.9,272.3 L189.7,267.2 L197.4,256.9 L202.6,246.7 L212.8,239 L225.6,234.9 L243.6,234.9 L264.1,228.5 L284.6,222.1 L302.6,216.9 L318,219.5 L330,224 L338.5,227.2 L343.6,219.5 L351.3,211.8 L353.8,201.5 L346.2,191.3 L333.3,184.9 L315.4,184.9 L300,182.3 L288.5,173.3 L282.1,165.6 L274.4,159.2 L266.7,160.5 L257.7,160 L248.7,149.7 L243.6,142.1 L242.3,134.4 L244.9,121.5 L257.7,119 L275.6,119 L285.9,124.1 L298.7,128 L316.7,128.7 L329.5,125.4 L344.9,119 L360,113.8 L372,112.1 L375,60 L0,60 L0,292 Z"/>
<path fill="#e5533a" d="M330,226 L338,228 L343.6,234.9 L351.3,245.1 L346.2,251.5 L338.5,250.3 L330.8,245.1 L333.3,237.4 Z"/>
<path fill="#e5533a" d="M400,100 L405.1,113.7 L414.6,121.5 L411.4,137.3 L408.3,153.1 L411.4,175.2 L417.7,191 L424,203.6 L430.3,209.9 L440,215 L460,150 L420,90 Z"/>
<path fill="#fdb064" d="M36,138 L34.6,142.6 L30.8,157.9 L23.1,164.4 L15.4,166.9 L5,168 L5,150 Z"/>
<path fill="#a50026" d="M80,90 L82.8,111.6 L86.8,129.3 L88.8,145.1 L88.5,160.5 L102.6,165.6 L112.8,173.3 L120.5,183.6 L133.3,184.9 L143.6,178.5 L153.8,168.2 L160,163.1 L165.4,160 L183.3,149.7 L196.2,139.5 L205.1,129.2 L210,120 L210,90 Z"/>
<path fill="#a50026" d="M44.9,165.6 L53.8,161.8 L69.2,163.1 L84.6,166.9 L79.5,173.3 L79.5,186.2 L87.2,193.8 L97.4,201.5 L103.8,209.2 L107.7,222.1 L110.3,234 L112.8,246.7 L116.7,264.6 L117,278 L105,285 L60,245 L50,236 L48.7,229.7 L47.4,224.6 L44.9,209.2 L43.6,191.3 Z"/>
<path fill="#a50026" d="M158.5,224.5 L161.5,223.8 L162.5,226.5 L160,227.8 Z"/>
<path fill="#e5533a" d="M196,308 L200,309.5 L207,311 L208,315.4 L200,318 Z"/>
<path fill="#fff4b6" d="M259,314.4 L266.7,307.9 L276.9,307.2 L284.6,311.8 L287.2,322.1 L285.9,334.9 L279.5,340 L269.2,338.7 L262.8,329.7 L259,322.1 Z"/>
<path fill="#fff4b6" d="M264,293 L267.5,292.3 L269,294.5 L265.5,295.5 Z"/>
<path fill="#fff4b6" d="M320.5,291.3 L322,289 L325.6,287.4 L329.5,291.3 L328.2,297.7 L324.4,301.5 L320.5,297.7 Z"/>
<path fill="#fff4b6" d="M321.5,291 L325,289.5 L331.8,291 L330,298 L324,300.3 Z"/>
<path fill="#fff4b6" d="M327.9,313.1 L335.6,309.2 L348.5,310.5 L361.3,318.2 L371.5,331 L379.2,341.3 L384.4,351.5 L389.5,364.4 L394.6,379.7 L402.3,395.1 L404.9,402.8 L399.7,410.5 L389.5,411.8 L376.7,408 L361.3,402.8 L348.5,397.7 L335.6,390 L327.9,382.3 L325.4,366.9 L327.9,351.5 L330.5,341.3 L327.9,328.5 Z"/>
<path fill="#d0e9f2" d="M360,356 L362.5,353.5 L365.5,356 L365,362 L361.5,361 Z"/>
<path fill="#fff4b6" d="M394.6,320.8 L402.3,315.6 L412.6,313.1 L416.4,318.2 L415.1,333.6 L413.8,343.8 L407.4,341.3 L399.7,333.6 Z"/>
<path fill="#fff4b6" d="M380.8,275.2 L390,270 L400.1,264.2 L416.7,253.1 L426.4,251.8 L429.1,261.4 L425,267 L413.9,269.7 L397.3,272.5 L386.3,275.2 Z"/>
<path fill="#fff4b6" d="M425,322.2 L430.5,318.1 L447.1,318.1 L463.6,313.9 L480.2,311.2 L491.3,313.9 L502.3,319.4 L507.8,325 L502.3,330.5 L491.3,333.3 L483,336 L469.2,337.4 L455.4,340.2 L441.5,341.5 L436,336 L425,326.4 Z"/>
<path fill="#fff4b6" d="M483,275.2 L485.7,269.7 L491.3,255.9 L499.6,250.4 L510.6,254.5 L520,250 L520,280 L502.3,272.5 L494,280.8 L485.7,279.4 Z"/>
<path fill="#e5533a" d="M417.4,464.2 L424.2,457.5 L434.2,455.8 L439.3,462.6 L437.6,474.3 L430.9,484.4 L420.8,486 L415.8,477.7 Z"/>
<path fill="#e5533a" d="M444.3,447.4 L451,437.4 L457.7,440.7 L464.4,454.2 L467.8,464.2 L461.1,467.6 L454.4,457.5 L447.7,452.5 Z"/>
<g fill="none" stroke="#b9b9b9" stroke-width="1.2" stroke-linejoin="round" stroke-linecap="round"><path d="M245.7,121 L245.8,123.8 L247.4,126.2 L247.5,129 L247.9,131.5 L249.7,133.5 L250,136"/>
<path d="M125.5,120 L125.3,122.6 L124,124.9 L123.3,127.3 L124.8,129.1 L125.2,131.3 L126.2,133.3 L127,135.7 L126.6,138.2 L126.5,140.7 L127.2,143.1 L125.4,145.4 L123.3,147.4 L122,150 L118.5,152.6 L120.9,153.9 L123.8,153.7 L126.2,155.1 L127.6,157.2 L130,158.2 L131.3,160.3 L130.5,162.8 L131.2,165.5 L130.2,167.9 L130,170.5 L131.8,172.8 L132.4,175.7 L133.8,178.2 L134,180.9 L132.9,183.3 L132.6,185.9 L132.5,188.6 L131.2,191 L130.2,193.5 L130,196.2 L131.8,198.8 L133.8,201.3 L133.8,204.6 L132.6,207.7 L134.2,210.5 L136.4,212.8 L138.2,214.9 L140.3,216.7 L140,219.5 L138.4,221.8 L137.7,224.4 L140.1,224.5 L142.2,225.8 L144.3,226.7 L146.7,226.9 L148.3,228.8 L149.8,230.6 L151.8,232.1 L153.6,230.5 L155.5,228.9 L156.9,226.9 L159.5,226.5 L162.1,226 L164.5,224.4 L167.2,224.4 L168.9,226 L171.4,226.5 L172.9,228.4 L174.9,229.5 L177.6,229.6 L179.9,231 L182.5,231.8 L185.1,232.1 L187.7,232.3 L190.2,232.4 L192.8,232.1 L195.2,233.6 L197.9,234.6 L200.2,232.8 L203.1,232.1 L205.5,233.6 L208.2,234.6 L210.1,233.1 L211.8,231.4 L213.3,229.5 L214.4,231.9 L215.6,234.2 L217.7,235.9 L218.5,238.5 L220.9,240.6 L223.6,242.3 L226.3,241.7 L228.8,240.8 L231.3,239.7 L233.6,238.7 L235.8,237.4 L237.5,235.4 L240,234.6 L242.7,235 L245.4,234.9 L248,234.7 L250.6,234.1 L253,232.8 L255.7,233.1 L258.2,232.3 L260.3,231.3 L262.7,231.9 L264.8,231.4 L266.9,230.2 L269.3,230.8 L271.4,230.3 L273.6,229.7 L275.9,229.7 L278,229.2 L280.1,228 L282.5,228.6 L284.6,228.1 L286.7,227 L289,227.2 L291.2,226.3 L293,224.5 L295.6,224.3 L297.6,223.1 L299.4,221.3 L301.8,220.8 L304.3,221.3 L307,220.7 L309.4,222 L312,222 L314.6,222.1 L316.3,223.7 L318.4,224.8 L320.7,225.4 L322.3,227.2 L324.8,228 L327.6,227.9 L329.9,229.5 L332.6,229.7 L334.9,230.2 L336.5,232.2 L338.7,233 L341,233.3 L342.8,234.9 L345.3,235.5 L348,235.2 L350.5,236.2 L353.1,235 L355.4,233.1 L358.2,232.3 L360.7,233.1 L363.5,233 L365.8,234.7 L368.5,234.9 L370.9,233.7 L373.7,234 L376.2,233 L378.7,232.3 L381.1,232.9 L383.5,232.7 L385.9,232.2 L388.2,233.4 L390.6,233.2 L393.1,232.7 L395.4,233.9 L397.8,233.6 L399.9,232.6 L402.3,233.2 L404.4,232.3 L406.4,231.3 L408.8,231.9 L410.9,231 L413,230 L415.4,230.5 L417.5,229.6 L419.6,228.6 L422,229.2 L424.1,228.3 L426.2,227.3 L428.5,227.9 L430.6,227 L432.7,226 L435.1,226.6 L437.2,225.7 L439.9,226 L442.3,227.7 L445,228"/>
<path d="M49.7,226.4 L51.5,225 L53.5,223.8 L55,222 L57.2,221.1 L59.5,220.5 L61.1,218.6 L63.5,218.1 L66.3,218.1 L68.9,216.6 L71.8,216.7 L71.4,219.4 L72,222 L74.7,222.1 L77.4,222.6 L80.2,221.6 L82.9,222.2 L85.6,222 L88,221"/>
<path d="M95.4,226.9 L98,227.4 L100.5,226.3 L103.1,227 L105.7,227.4 L108.2,226.3 L110.8,226.9 L111.7,229.1 L113.8,230.4 L114.5,232.7 L115.9,234.6 L119,236"/>
<path d="M248,199 L250.3,197.2 L253.1,196.5 L255.6,195.1 L258.4,195.9 L260.7,197.8 L263.3,199 L265.1,201 L265.8,203.6 L266.8,206 L268.5,208 L269,210.3 L269.3,212.6 L270.9,214.5 L271,216.9 L268.8,217.8 L267.5,220 L265.1,220.7 L263.3,222.1 L261,223.9 L258.1,224.5 L255.6,225.9 L253.3,224.7 L251.9,222.6 L250.2,220.8 L248,219.5 L245.5,218 L243,216.5 L240.3,215.6 L241.1,213.4 L241.9,211.3 L241.6,208.8 L242.8,206.7 L244.4,205 L244.9,202.5 L246.9,201 L248,199"/>
<path d="M238.7,169.3 L240.3,170.8 L242.9,170.8 L245.3,169.4 L248,169.5 L250.3,171.2 L253.3,171.5 L255.6,173.3 L258.1,174.2 L260.8,173.6 L263.3,174.6 L265.8,175.7 L268.6,175.3 L271,176.7 L273.6,177.2 L276.1,176.2 L278.8,176.5 L281.3,175.9 L283.8,175 L286.4,175.4 L289,175.3 L291.5,174.6 L294.1,174.2 L296.7,173.7 L299.1,172.2 L301.8,172.1 L304.5,171.8 L306.8,170.2 L309.6,170.4 L312.1,169.5 L314.8,169.6 L317.1,171 L319.7,171.8 L322.3,172.1 L324.4,171.5 L326.5,170.9 L328.3,169.2 L330.6,169.2 L332.6,168.2 L335.1,167.2 L337.8,167.6 L340.3,166.9 L342.6,165.5 L345.4,165.5 L347.9,164.4 L348.2,161.5 L349.7,159 L351.8,157.9 L353.2,155.8 L355.6,155.1 L357.6,153.7 L359.3,152.1 L361.4,151.2 L363.3,150.2 L364.8,148.3 L367.2,148 L369,146.6 L371.2,145.5 L373.7,146 L375.9,145.2 L375.5,142.4 L376.7,139.7 L376.6,136.9 L374.7,135 L374.1,132.3 L372.7,130.2 L370.6,128.4 L369.7,125.9 L371,123 L371.8,120"/>
<path d="M342.8,166.9 L345.4,167.1 L347.9,165.8 L350.5,166.3 L353.1,166.3 L355.6,165.6 L357.4,167 L359.2,168.5 L361.7,169 L363.3,170.8 L361.1,171.7 L359.8,173.8 L357.4,174.5 L355.6,175.9 L354.8,178.1 L352.9,179.6 L351.4,181.4 L351,183.9 L349,185.4 L347.9,187.4 L349.3,189.8 L349.4,192.6 L350.5,195.1 L353.1,194.8 L355.6,195.8 L358.1,196.3 L360.8,195.5 L363.3,196.4 L364.3,199.1 L365.9,201.5 L364.7,203.5 L363.5,205.5 L363.4,207.9 L361.6,209.6 L360.8,211.8 L360.9,214.5 L359.5,216.9 L358.9,219.4 L359.3,222.2 L358.2,224.6 L356,226.3 L354.8,228.9 L352.2,230.2 L350.5,232.3 L348.1,233.7 L345.3,233.8 L342.8,234.9 L342.9,237.6 L341.5,240 L341,242.5 L341.4,245.3 L340.3,247.7 L339.5,250.2 L339.8,252.9 L338.4,255.3 L337.9,257.9 L337.7,260.5 L336.7,262.8 L336.1,265.2 L336.3,267.8 L335.1,270"/>
<path d="M343.8,260 L345.2,262.4 L345.4,265.2 L346.4,267.7 L348.2,269.3 L348.8,271.6 L349.9,273.7 L351.5,275.4 L353.4,277.1 L355.3,278.8 L357.6,280 L359.6,281.7 L361.8,283.1 L364.1,284.2 L365.5,286.4 L367.3,288.1 L369.9,289 L371.4,291 L372.5,293.3 L374.7,294.8 L375.4,297.4 L377,299.3 L379.1,300.5 L380.1,302.8 L381.7,304.5 L384,305.5 L385.2,307.6 L387.4,307.9 L389.6,307 L391.9,307.9 L394.1,307.9 L396.3,307.6 L397.9,305 L399.1,302.1 L401.2,301 L403.6,301.2 L405.8,300.7 L407.8,299.3 L410.1,299.3 L411.7,301.4 L414.2,302.6 L415.6,304.9 L417.8,305.5 L420.1,304.8 L422.2,306 L424.4,306.2 L426.7,306.2 L428.5,307.5 L430.5,308.4 L432.9,308.6 L434.4,310.4 L436.4,311.4 L438.8,311.6 L440.5,313.1 L441.2,316 L442.9,318.4 L443.3,321.4 L442.5,323.6 L442.8,326 L441.3,328 L440.8,330.2 L440.5,332.5 L443.2,333.5 L446,333.9 L448.1,333 L450.5,333.7 L452.7,333.3 L454.8,332.2 L457.1,332.5 L460,331.3 L462.6,329.7 L462.5,326.9 L461.9,324.1 L461.2,321.4 L460.9,318.6 L459.8,315.9 L462.6,315.3 L465.3,316.3 L468.1,315.9 L470.6,316.5 L472.4,318.5 L474.7,319.4 L477.2,319.8 L479.2,321.4 L479.9,324.2 L481.6,326.8 L481.9,329.7 L481.7,332.1 L482.5,334.4 L481.5,336.8 L481.7,339.2 L482.5,341.6 L481.5,343.9 L481.9,346.3"/>
<path d="M396.3,307.6 L396.1,310.4 L395.9,313.1 L396.3,315.9 L394.7,318.6 L393.5,321.4 L390.8,324.2 L389.7,326.9 L388.6,329.6 L388,332.5 L386.2,334 L384.4,335.6 L383.4,337.9 L381.2,339 L379.7,340.8 L377.2,342.7 L374.2,343.5 L372.5,346.1 L371.4,349.1 L373.1,351.1 L374.9,353 L377,354.6 L377.7,357.4 L378.5,360.2 L379.7,362.9 L377.5,364.1 L375.4,365.4 L373.8,367.5 L371.4,368.4 L369.1,368.1 L366.8,369 L364.5,368.1 L362.2,368.1 L359.9,369 L357.6,368.4 L355,366.7 L352.1,365.6 L350.9,368.3 L350,371 L349.3,373.9 L347.7,375.8 L346.3,377.9 L345.7,380.5 L343.8,382.2 L342.1,384.8 L341,387.7 L342.6,389.8 L344.5,391.6 L346.6,393.3 L348,395.2 L349.7,396.8 L352,397.8 L353,400.1 L354.9,401.5 L356.5,404 L357,407 L354.5,408 L352.4,410.1 L349.7,410.8 L348.3,413 L347.3,415.5 L345.4,417.7 L344,420.1 L342.6,422.6 L341.4,424.8 L340.8,427.3 L340.2,429.7"/>
<path d="M257.8,337.8 L257.4,340.1 L258.4,342.4 L257.6,344.7 L257.4,347 L258.4,349.3 L257.6,351.6 L257.4,353.9 L258.4,356.2 L257.6,358.5 L257.4,360.8 L258.4,363.1 L257.8,365.4 L258.1,367.9 L259.7,370.1 L259.5,372.8 L260.1,375.2 L261.6,377.4 L261.7,380 L261.5,382.2 L262.6,384.4 L261.9,386.7 L262,388.9 L263,391.1 L262.3,393.4 L262.4,395.6 L263.5,397.7 L263,400"/>
<path d="M238.7,169.3 L237.8,171.5 L235.8,172.8 L234.4,174.6 L233.3,176.6 L231.1,177.8 L229,179.1 L227.4,181.2 L225,182.1 L224.1,184.2 L224.5,186.6 L223.1,188.6 L222.4,190.8 L222.2,193.1 L220.2,194.3 L218.3,195.6 L217.1,197.7 L214.7,198.4 L212.8,199.8 L211.2,201.4 L212,203.6 L213,205.7 L214.8,207.4 L215.3,209.7 L214.3,212.4 L213.9,215.2 L211.5,215.4 L209.2,215.8 L207.1,217.2 L204.6,216.8 L202.3,217.3 L200.1,218 L198.2,219.4 L196.6,221.1 L195.5,223.4 L193.2,224.4 L191.8,226.3 L192.4,229.1 L191.5,231.8 L191.8,234.6"/>
<path d="M218.9,241.3 L221.3,241.1 L223.7,240.7 L225.9,239.3 L228.5,239.6 L230.8,238.9 L232.8,236.8 L235.7,236 L237.9,234.2 L240.2,233.3 L242.6,233.9 L245,233.6 L247.3,233 L249.7,232.8 L252.1,232.4 L254.3,231 L256.9,231.5 L259.2,230.7 L261.5,229.9 L264,230.5 L266.3,230.3 L268.6,229.1 L271,229.5 L273.4,229.2 L275.6,227.7 L278.2,228 L280.5,227.1 L282.7,225.9 L285.3,226.2 L287.6,225.6 L289.9,224.7 L291.7,223.4 L293.3,221.7 L294.7,220"/>
<path d="M218.9,241.3 L219.6,243.8 L221.4,245.8 L221.5,248.5 L222.4,250.9 L223.7,253.1 L226,253.9 L228.4,254.4 L230.9,254 L233.1,255.3 L235.5,255.5 L237.6,257.5 L238.4,260.4 L240.2,262.6 L242.5,263.5 L243.8,265.7 L245.7,267.1 L248.2,267.8 L249.7,269.7 L252,270.8 L254.6,270.7 L256.8,272.1 L259.1,272.8 L261.6,272.4 L263.8,273.8 L266.2,274.2 L268.6,274.4 L271,276.8 L273.4,277 L275.7,276.2 L278.1,277.2 L280.4,277 L282.8,276.8 L285,275.9 L286.9,274.6 L288.4,272.7 L290.9,272.4 L292.8,271.1 L294.7,269.7 L297.3,268.5 L299.5,266.7 L301.8,265 L304.2,264.8 L306.5,264 L308.7,262.6 L311.2,262.6 L313.6,262.3 L315.8,261.1 L318.4,261.6 L320.8,260.9 L323.1,260.2 L325.6,259.6 L327.9,258.5 L330,256.8 L332.7,256.8 L334.9,255.5 L337.3,253.1 L339.8,252.3 L342,250.8 L341.4,248.4 L342.4,246.1 L342.1,243.7 L341.4,241.3 L342.4,238.9 L342.1,236.6 L342,234.2 L343,231.9 L343.3,229.5 L343.2,226.9 L344.4,224.7"/>
<path d="M337.3,253.1 L339.2,254.6 L339.9,257.1 L341.3,259 L343.5,260.3 L344.4,262.6 L344.9,265.1 L346.5,267.1 L346.4,269.8 L347.3,272.2 L348.9,274.2 L349.1,276.8 L351.3,278.6 L354.2,279.4 L356.2,281.5 L358,282.9 L360,283.9"/>
<path d="M282.8,276.8 L282.5,279.2 L282.5,281.6 L283.4,283.9 L282.8,286.3 L283.4,288.7 L285.2,290.8 L285.2,293.5 L286.4,295.7 L287.4,298 L286.9,300.5 L287.6,302.8 L287.4,305.4 L285.7,307.4 L285.2,309.9 L284.8,312.5 L283,314.5 L282.2,317 L282,319.6 L280.5,321.8 L278.1,322.2 L275.9,323.5 L273.3,323.2 L271,324.1 L268.8,325.3 L266.2,324.9 L263.8,325.7 L261.5,326.5 L259,327.3 L256.7,328.7 L254.7,330.6 L252.1,331.2 L250.4,332.7 L249.3,334.8 L247.3,336"/></g>
<g fill="none" stroke="#0a0aff" stroke-width="1.2" stroke-linejoin="round" stroke-linecap="round"><path d="M34.5,140.7 L36,142.4 L38.2,143.1 L39.7,144.8 L41.4,146.2 L43.9,147.2 L46,149 L48.3,150.4 L50.1,152.2 L51.1,154.5 L50.9,156.8 L52,159.1 L51.8,161.4 L51.6,163.7 L52.7,166 L52.5,168.3 L50.8,170.4 L50.1,173.1 L48.3,175.2 L46.3,176.7 L45.2,179 L43.1,180.4 L41.4,182.2 L39.3,183.2 L37,183.2 L34.7,183.4 L32.7,184.8 L30.4,184.9 L27.5,185.5 L25,187.2 L22.1,187.7 L19.9,188.6 L18.3,190.6 L16,191.5"/>
<path d="M87.7,219.2 L89.7,217.9 L92,217.5 L94.3,217 L96.1,215.4 L98.4,215 L100.5,214.1 L102.4,212.4 L104.8,211.6 L107.1,210.6 L108.8,208.6 L111.2,207.7 L113.3,206.4 L114.9,204.7 L117,203.9 L119.1,202.9 L120.4,200.9 L122.6,200 L124.6,199 L126.2,197.4 L127.9,196 L129.9,194.7 L131,192.6 L133.1,191.5 L135,190.3 L136.4,188.5 L138.4,187 L140.5,185.6 L141.9,183.3 L144.1,182.1 L146,180.3 L147,177.7 L149,176 L151.7,172.6 L153,170.6 L155.1,169.4 L156.9,168 L158.3,166.1 L160.5,165.7 L162.6,165 L165.8,164 L169.1,163.9 L171.1,165.8 L173.5,167.2 L175,170 L176.7,172.6 L180,174.8 L182.1,175.7 L184.2,176.6 L186.5,177 L188.7,176.3 L191,175.7 L192.9,174.1 L195.2,173.7 L198.1,173.7 L200.9,172.5 L203.9,172.6 L206.2,171.8 L208,170 L210.5,169.5 L212.6,168.3 L214.6,166.8 L217,166.1 L220.2,166.4 L223.5,166.1 L226.8,165.7 L230,165 L232.2,161.7 L231.9,158.4 L231.1,155.2 L232.6,153.4 L234.8,152.5 L236.5,150.9 L239.2,150.1 L242,150.3 L245.3,150.3 L248.5,149.8 L249.3,147.7 L249.9,145.5 L250.2,143.3 L250.8,140.7 L251,138 L251.4,135.6 L252.8,133.5 L255.6,132.4 L258.2,130.9 L259.9,127.3 L257.4,125.7 L254.6,124.6 L253,122.9 L251.2,121.5 L249.3,120.2 L249.1,117.5 L248.4,114.9 L246.5,112.8 L245.6,110 L243.9,107.8 L242.3,105.9 L241.8,103.5 L240.4,101.5"/>
<path d="M126.2,280 L126.5,277.6 L127.2,275.3 L126.6,272.8 L127.4,270.5 L126.7,268.2 L124.9,266.4 L124.3,264.1 L123.5,261.8 L121.7,260 L121,257.7 L120.8,255 L119.3,252.7 L119.2,250 L118.5,247.4 L118.3,244.8 L119.1,242.3 L119.6,239.8 L119,237.1 L119.7,234.6 L121.9,232.9 L123.2,230.4 L125.5,228.9 L127.4,226.9 L128.7,225.1 L130.8,224.1 L132.6,222.8 L133.7,220.7 L135.8,219.7 L137.6,218.4 L139,216.7 L140.9,215.3 L142.9,214 L144.2,211.9 L146.4,210.9 L148.4,209.6 L149.7,207.5 L151.8,206.4 L153.8,204.9 L154.9,202.7 L157.1,201.4 L158.9,199.8 L160,197.6 L162.1,196.2 L163.2,193.7 L163.3,190.9 L164.6,188.5 L165.7,186.6 L165.7,184.2 L167.1,182.4 L168,180.4 L168.5,178.2 L169.9,175.7 L171,173.1 L171.2,170.4 L172.3,168"/>
<path d="M228.5,165 L227.6,167.3 L227.5,169.7 L225.6,171.8 L223.5,173.6 L222,176 L220.6,178 L219.1,179.8 L218.1,182 L217.4,184.5 L216.4,186.9 L216.6,189.6 L215.5,192 L215.4,194.4 L216.6,196.6 L216.3,199.1 L216.7,201.4 L215.6,203.4 L213.7,204.6 L212,206.1 L210.8,208 L208.7,209.7 L206.6,211.3 L205.2,213.8 L202.9,215.2 L200.7,216.6 L199.3,219 L196.9,220.2 L195,222 L193.9,224.1 L191.9,225.5 L190.3,227.1 L189.1,229.1 L187.9,231.3 L186.7,233.6 L186,236 L184.7,238 L183.4,240 L182.6,242.3 L181.2,244.3 L179.8,246.2 L179.2,248.7 L177.3,250.4 L176.2,252.6 L174.1,254.1 L171.5,254.5 L169.1,255.4 L167.1,257.1 L164.6,257.7 L162,257.9 L159.6,259.2 L156.9,259.1 L154.3,259.5 L151.8,260.3 L149.6,261.4 L147.5,262.6 L145.9,264.6 L143.4,265.2 L141.5,266.7"/>
<path d="M176.2,252.6 L178.4,254 L180,256.1 L181.7,258 L184.2,259 L185.7,261.2 L187.7,262.8 L189.4,264.5 L190.2,266.7 L191.2,268.8 L192.8,270.5 L192.4,272.9 L191.8,275.2 L192.3,277.7 L191.5,280"/>
<path d="M248.5,149.8 L250.3,151.8 L252,153.9 L254.5,155.2 L256.1,157.4 L258.1,159.1 L260.7,159.9 L262.6,161.7 L263.4,164.1 L264.8,166.1 L266.9,167.6 L268.9,169.3 L271.3,170.4 L273.4,171.6 L275.5,172.9 L278,173.3 L280,174.8 L282.4,175.9 L285.2,175.9 L287.6,177.3 L290.2,178 L294.1,179.7 L296.2,181.1 L298.2,182.6 L300.5,183.6 L300.8,186.2 L301,188.8 L301.8,191.3 L301.3,193.8 L300.8,196.4 L301.3,199 L300.5,201.5 L299,203.3 L298.4,205.6 L296.5,207.2 L295.4,209.2 L295,211.9 L293.5,214.3 L292.8,216.9 L293.6,219.4 L293.1,222 L293.3,224.6 L294.3,227.1 L294.1,229.7 L292.8,231.6 L292.5,234 L290.8,235.8 L289.8,237.8 L289,240 L287.5,241.8 L286.2,243.7 L285.5,246.1 L283.8,247.7 L281.7,249.4 L280.4,251.9 L277.9,253.3 L276.2,255.4 L274.4,257.3 L271.9,258.3 L269.9,259.8 L268.3,262 L265.9,263.1 L263.8,265.5 L262.1,268.2"/>
<path d="M264.2,164 L265,166.2 L266.8,167.8 L267.3,170.1 L268.5,172 L269.6,174 L269.7,176.4 L270.5,178.5 L268.5,181 L267.5,183.1 L266.4,185.1 L266.4,187.6 L264.9,189.5 L263.9,191.5 L263.3,193.8 L261.9,195.9 L260.4,197.9 L259.9,200.5 L258,202.3 L256.6,204.4 L255.6,206.7 L254.2,208.7 L252.8,210.8 L252.2,213.4 L250.3,215.1 L248.9,217.2 L247.9,219.5 L246.2,221.4 L244.6,223.4 L243.7,225.9 L241.7,227.5 L240.3,229.7 L239.4,231.9 L237.6,233.4 L236.2,235.3 L235.6,237.7 L233.7,239.2 L232.3,241.1 L231.7,243.5 L230,245.1 L227.6,245.8 L225.6,247.5 L223,247.8 L220.7,248.8 L218.5,250 L217,251.8 L215.7,253.7 L215,256.1 L213.3,257.7 L213,260.3 L213.8,262.8 L213.3,265.4 L214.9,267.1 L217.2,268.1 L218.5,270.2 L220.3,271.7 L222.3,273.1"/>
<path d="M359.5,250.3 L361.1,248.3 L363.6,247.5 L365.8,246.3 L367.2,243.9 L369.7,243.1 L371.9,241.9 L373.6,240 L376,239.5 L378.3,239 L380.3,237.2 L382.9,237.3 L385.2,236.8 L387.2,235 L389.7,234.9 L392.1,234 L393.6,231.7 L396.3,231.3 L398.5,230.1 L400.1,227.9 L402.6,227.2 L405.3,226.3 L407.7,224.6 L409.7,226.1 L411.7,227.6 L414.1,228.5 L416.4,227.8 L418.7,226.9 L420.5,224.9 L423,224.6 L425.2,223.7 L426.5,221.5 L429,221 L430.8,219.5 L433.3,216.9"/>
<path d="M434.1,217.8 L432.8,220.7 L432.1,223.7 L432.7,226 L431.3,228.2 L430.7,230.4 L431.9,232.8 L430.4,234.9 L429.9,237.1 L430.2,239.4 L429.1,241.7 L428.1,244 L428.6,246.8 L426.7,248.8 L426.2,251.3 L426,253.7 L423.9,255.1 L422.8,257 L422.3,259.2 L420,259.1 L417.8,259.2 L415.6,260 L412.9,260.5 L410.3,261.2 L407.9,262.6 L405.7,263.3 L403.6,264.2 L402.2,266.5 L399.6,266.3 L397.7,267.7 L396.1,269.7 L393.4,269.9 L391.3,271.1 L389.9,273.6 L387.4,274.1 L385.1,274.3 L383.4,276.2 L380.9,275.6 L378.7,276.2 L377,278.1 L374.6,277.9 L372.3,278.1 L370.6,280.1 L368.1,279.4 L365.9,280.1 L364.2,282 L361.8,281.8 L359.6,282 L357.8,283.9 L355.3,283.2 L353.2,284 L351.4,285.8 L349,285.6 L346.4,285.7 L344.1,287.5 L341.2,286.6 L338.7,287.3 L336.2,288.2 L333.9,288.2 L331.7,289 L329.8,290.7 L327.3,289.9 L325.1,290.7 L323.2,292.4 L320.8,292.1 L321.3,294.4 L323.3,296 L323.3,298.5 L323.3,301.1 L324.7,303.5 L323.5,306.2 L324,308.8 L324.6,311.3 L324.3,313.9 L324.8,316.4 L326.3,318.9 L325,321.6 L325.9,324.1 L327.4,326 L326.6,328.5 L327.6,330.6 L329.3,332.4 L328.5,334.9 L329.7,336.9 L329.2,339.9 L327.2,342.1 L325,342.7 L323.2,344.6 L320.8,344.6 L319.3,346.4 L318.2,348.5 L317.6,351.4 L318.2,354.2 L318.5,357"/>
<path d="M320.8,292.1 L318.3,293.4 L316.1,294.7 L313.5,294 L311.1,294.2 L309,296.1 L306.5,295.7 L304.2,294.9 L301.7,296.1 L299.5,294.7 L297.1,294.3 L294.7,294.6 L292.3,294.6 L289.9,294.8 L287.6,295.7 L285.1,296.6 L282.6,297.6 L280.9,300.1 L278.1,300.5 L275.6,300.5 L273.6,302.3 L270.9,301.5 L268.6,301.9 L266.3,302.8 L263.8,303 L261.4,303.5 L259.4,305.5 L256.8,305.2 L254.9,306.5 L254.3,309 L251.7,309.6 L250.2,311.2 L249.5,313.8 L247.3,314.7 L244.8,315.2 L242.9,317.4 L240,317.1 L237.7,318.1 L235.5,319.4 L233,319.9 L230.6,320.9 L228.8,323.1 L225.9,322.7 L223.7,324.1 L221,323.9 L219,322"/>
<path d="M329.7,342.1 L332.4,343.2 L333.8,345.7 L336.2,347.2 L338.6,347.5 L340.1,349.5 L342.1,350.7 L344.7,350.6 L346.4,352.3 L348.3,353.7 L350.9,353.6 L352.4,355.7 L354.4,356.8 L356.7,357.4 L358.4,359 L360.3,360.4 L362.9,360.6 L364.4,362.6 L366.7,364.8 L369.5,366.4 L367.2,368.8 L365.6,371.6 L364.8,374 L362.3,375.3 L360.9,377.2 L359.7,379.4 L359.5,381.9 L359.8,384.4 L361.2,386.7 L360.7,389.3 L362.2,391.2 L364.8,391.9 L365.8,394.4 L367.6,395.9 L369.6,397.2 L371.3,398.8 L373.3,399.9 L375.9,400.1 L377.2,402.3 L379.4,403.1 L381.9,403.9 L383.1,406.4 L385.1,407.8 L387.3,409"/>
<path d="M423.3,260 L422.7,262.5 L422.2,265.1 L423.2,267.8 L422.1,270.3 L419.8,272.6 L418.2,275.4 L418.5,278 L419.1,280.6 L420.9,282.9 L420.8,285.6 L419.5,287.6 L419.8,290.2 L417.8,291.9 L417,294 L417.2,296.6 L415.6,298.5 L414.6,301 L415.1,303.8 L413.3,306.1 L413.1,308.7 L411.5,310.9 L408.7,311.4 L406.7,313 L405.3,315.5 L402.8,316.4 L400.6,318.1 L399.5,320.8 L396.7,321.9 L395.1,324.1 L397.4,325.2 L398.2,327.8 L400.3,329.2 L402.8,330.6 L403.8,333.4 L405.8,335.2 L407.9,336.9 L410.2,339.3 L413,341 L415.1,342.2 L415.6,344.8 L417.2,346.4 L418.9,347.9 L420.6,349.8 L422.7,351.1 L425.3,351.7 L426.8,353.8 L428.2,355.6 L430.5,356.4 L431.2,358.9 L432.9,360.3 L434.7,361.7 L437.3,361.7 L439.7,360.9 L441.9,359.4 L444.5,359.7 L446.9,359.3 L448.9,357.6 L451.5,358.3 L453.8,357.3 L455.8,355.7 L458.3,355.8 L460.6,355 L462.4,353.1 L465.2,353.4 L467.3,352 L469.1,350.2 L471.9,350.4 L474,349.1 L476.1,347.9 L479.2,347.2 L481.9,345.4"/>
<path d="M434.7,361.7 L432.6,363.1 L431.1,365.3 L428.6,366.3 L426.6,367.8 L424.8,369.6 L422.7,370.6 L420.7,371.7 L419.2,373.6 L416.8,374.1 L415,375.5 L415,378.1 L413.7,380.4 L413.3,382.9 L413,385.4 L411.8,387.2 L410.8,389.2 L410,391.3 L409.5,393.7 L409.3,396.2 L409.7,398.7 L409,401.1 L406.9,402.9 L405.1,405.1 L401.1,405.1"/>
<path d="M324.9,417.9 L328.2,416.9 L330.8,419.1 L332.7,421.5 L335.5,422.6 L337,424.5 L339,425.7 L341.4,426.2 L342.6,429.7 L344.8,431 L347.3,430.9 L349.3,432.9 L352.1,433.3 L355.2,433 L356.8,435.6 L359.3,435.7 L361.5,434.4 L364.1,434.7 L366.3,433.3 L368.3,431.2 L371,432.1 L372.3,434.3 L374.6,435.6 L374.2,438.2 L375.7,440.4 L378.6,441 L379.3,443.9 L379.3,446.4 L380.5,448.6 L382.8,451 L386.4,448.6 L388.8,446.3 L392.3,447.5 L394.7,451 L398,451.5 L399.4,454.6 L401.8,455.1 L404.1,454.6 L406.8,455 L408.9,453.4 L411.7,452.7 L413.3,456 L416,455.7 L418.7,454.8 L420.7,456.9 L422.8,458.5 L425.4,459.3 L426.8,461.4 L429.2,462 L431.4,462.8 L433.9,462.6 L435.5,460.8 L437.3,459.3 L440.2,459.1 L442,456.9 L444.1,455 L446.9,457.3 L449.1,455.7 L451.6,454.3 L453.7,457.2 L456.2,456.2"/></g>
</g>
<ellipse cx="332.1" cy="81.6" rx="2.7" ry="3.4" transform="rotate(30 332.1 81.6)" fill="#2a2a2a"/>
<path d="M11,154 L13.5,153 L15.2,150.8 L17.8,149.9 L20.2,148.9 L22,146.7 L24.5,145.7 L27,144.7 L28.7,142.5 L31.3,141.6 L33.5,140.2 L35.5,138.4 L38.1,137.5 L40.6,136.5 L42.4,134.3 L45,133.4 L47.5,132.4 L49.3,130.2 L51.9,129.3 L54.4,128.3 L56.2,126.1 L58.8,125.2 L61.1,123.8 L63.1,121.9 L65.7,121 L68.1,119.9 L69.9,117.7 L72.5,116.8 L74.9,115.6 L76.7,113.4 L79.3,112.5 L81.8,111.4 L83.8,109.6 L86.4,108.7 L89.1,108 L91.3,106.2 L94.1,105.8 L96.6,104.7 L95.8,101.8 L96,98.7 L98.6,97.4 L102.6,98.1 L103,101.3 L106.8,100.9 L110.5,99.7 L113.5,99 L116.5,98.4 L119.2,96.7 L122.3,96.4 L122.7,100.1 L123.9,103.7 L122.9,107.1 L122.3,110.6 L123.8,113 L124.1,115.9 L125.2,118.5 L128.1,120.6 L130.2,123.4 L133.4,123.9 L136.6,123.1 L139.8,123.9 L143,123.8 L142.3,120.9 L142.8,118 L142.4,115.1 L145.4,113.3 L148.8,112.7 L151.9,111.2 L155,111.8 L157.7,113.6 L160.6,114.7 L163.7,115.5 L166.9,116.5 L170.2,117.4 L173.6,117.9 L176.4,119.9 L179.5,121.4 L179.7,124.8 L178.6,128 L178.5,131.3 L182,131.3 L185.4,132.3 L188.5,130.9 L191.3,128.9 L192.3,133.3 L194.9,132.6 L197.2,131.3 L200,130.2 L202.6,128.9 L205.1,127.3 L208.2,125.8 L211,123.8 L213.8,122.1 L217,121.4 L219.6,119.6 L221.6,117 L224.5,115.7 L226.8,113.5 L228.4,111 L231,109.4 L232.9,107.3 L234.3,104.6 L236.9,103 L238.7,100.7 L236.2,96.6 L239.3,96.8 L242.4,96.6 L245.5,95.6 L248.6,96.4 L251.7,95.9 L252.9,100.4 L256,101 L259.2,101 L261.4,99.3 L264.1,98.5 L262.1,94.5 L260.1,91.3 L259.2,87.6 L258.9,84.1 L258.2,80.7 L261.1,79.7 L263.7,78.2 L266.1,76.2 L269,75.4 L271.8,75.2 L274.4,74.1 L277.2,74.6 L279.9,73.8 L280.2,76.7 L279,79.5 L279,82.3 L278.9,85.2 L281.6,85.4 L284.2,85 L286.8,84.7 L290,85.4 L293.3,85.4 L296.6,85.6 L297.5,82.7 L297.6,79.7 L299.2,77.4 L301.9,76 L303.6,73.8 L305.5,71 L308.1,68.9 L312.4,69.5 L315.7,71.2 L318.3,73.8 L318.7,76.8 L319.3,79.7 L318.5,84 L315.8,84.1 L313.2,84.8 L310.5,84.5 L311.4,87.8 L314.9,87.7 L318.3,88.6 L321.3,88.2 L324.3,87.6 L327,90 L330.2,91.6 L331.8,89.3 L334.5,88 L336.2,85.7 L338.1,83.7 L339.8,81.3 L340.7,78.5 L342,75.8 L345.6,72.8 L347.7,74.5 L350.1,75.7 L351.9,77.8 L353.3,81.3 L354.8,84.7 L353.4,87.5 L352.8,90.6 L351.9,93.5 L353.5,96.4 L355.8,98.8 L357.8,101.4 L358.3,105 L359.8,108.3 L362.4,107.5 L365.1,108.1 L367.7,107.3 L370.4,108.4 L372.6,110.3 L372.9,113.3 L373.7,116.2 L373.6,119.2 L376.2,119.2 L378.9,118.7 L381.5,119.2 L384.4,118.2 L387.4,117.2 L390.6,118 L393.9,117.8 L397.2,118.2 L399.9,117 L402.1,114.9 L404.4,112.9 L407.1,111.7 L410.1,113.9 L413,116.2 L413.5,119.1 L415.1,121.6 L416.4,124.2 L417,127.1 L419.5,128.5 L422.1,129.7 L424.1,132 L426.8,133 L430.8,136 L433.8,136.3 L436.7,135.4 L439.6,134.8 L442.6,135 L445,137.6 L445.7,140.3 L445.6,143 L448,141.3 L450.5,139.7 L452.9,142.5 L456,144.6 L453.2,148 L451.7,150.6 L451.2,153.5 L450.7,156.4 L449.5,159 L448.9,161.8 L448.4,164.6 L447.3,167.3 L445.9,170.5 L444.2,173.6 L442.9,176.6 L442.8,179.9 L442.2,183.1 L441,186.2 L442,189.4 L442.6,192.6 L440.4,194.1 L439,196.4 L437.3,198.4 L434.8,199.5 L433.5,201.9 L431.5,203.6 L430.5,206.1 L430.7,208.9 L430,211.5 L431.1,214.2 L433.3,216.1 L435,218.4 L436.3,221 L439.5,221.3 L442.6,221.7 L445.7,222.5 L448.5,223.1 L451.3,223.8 L453.9,225.4 L456.8,225.7 L459.6,225.8 L462.2,227 L465.1,226.7 L467.8,227.3 L470.6,228.1 L473.5,227.7 L476.4,227.9 L479.1,229 L482,228.8 L483.8,231 L485.2,233.6 L487.9,233.5 L490.5,233.7 L493.1,234.2 L494.9,236.5 L496.5,238.9 L497.8,241.5 L499,244.1 L499.9,246.7 L500.5,249.5 L503,251.4 L505.2,253.7 L507.9,254.6 L510.8,254.1 L513.5,254.7 L512.3,257.8 L509.5,260 L506.4,261.8 L504.7,264.6 L504.3,267.9 L502.8,270.8 L503.5,273.4 L505.5,275.4 L506.6,277.7 L507.6,280.2 L510.4,280.5 L513.1,281.2 L515.7,282.5 L518.7,282.3 L521.4,283 L524.1,283.8 L526.8,286.5 L528.9,289.7 L529,293.3 L530.1,296.8 L531.2,301.5 L529.5,304.9 L528.9,308.6 L531,310.8 L532.4,313.7 L534.8,315.7 L533.1,318.2 L531.2,320.5 L528.3,321.2 L525.3,321.3 L522.3,320.9 L519.4,321.7 L517.1,323.6 L514.7,325.2 L512.6,327.8 L509.9,329.9 L508.2,333.3 L507.6,337 L506.5,339.4 L504.7,341.5 L504,344.1 L503.5,347.7 L502.8,351.2 L500.8,354 L500.1,356.6 L499.1,359.1 L496.3,356.8 L494,354 L491.6,352.2 L488.5,351.7 L486,350 L483.6,348.8 L481,348.5 L478.3,350.1 L475.5,351.5 L475.3,354.2 L474.5,356.7 L473.8,359.2 L471.5,361.3 L468.8,362.7 L466.2,364.4 L466,367.7 L464.9,370.8 L462.5,373 L461,375.9 L460.4,378.5 L459.3,380.9 L459.6,383.7 L458.5,386.2 L457.2,388.6 L457.2,391.4 L455.9,393.8 L453,395.4 L450.8,397.7 L450,400.7 L448.6,403.6 L448.2,406.7 L447.4,409.3 L446,411.7 L445.6,414.4 L449.5,416.9 L447.8,419.2 L447.3,422.2 L445.6,424.6 L445.6,427.2 L446.9,429.7 L446.9,432.3 L449.2,435.2 L452.1,437.4 L454.6,440 L457.2,442.6 L459.6,443.9 L461.5,446 L463.6,447.7 L465,450.1 L465.5,452.8 L466,455.5 L467.4,457.9 L467.9,462.7 L466.6,465.1 L466.7,467.9 L465.4,470.2 L464.3,472.6 L464.6,475.4 L463.5,477.8 L462.9,480.3 L460.7,482.4 L457.9,483.6 L455.4,485.3 L452.7,484.9 L450.4,483.6 L447.9,482.8 L445.6,484.1 L442.9,484.4 L440.4,485.3 L438.1,487 L435.3,487.7 L432.6,488.7 L430.3,490.3 L427.2,490.8 L424,491.1 L421,492.7 L417.8,492.8 L415.1,493.7 L413,495.7 L410.3,496.5 L408.7,493.2 L406.5,490.3 L406,486.5 L405.3,482.8 L402.5,481.5 L400.3,479.3 L397.7,477.7 L394.9,476.5 L392.8,474.2 L390.2,472.7 L387.9,470.5 L386.5,467.7 L386.2,463.9 L385.2,460.2 L382.8,457.6 L380.2,455.2 L376.4,455.7 L372.7,455.2 L369.5,454 L365.9,454.1 L362.7,452.7 L361.7,450 L359.7,447.9 L359,445.1 L357.6,442.7 L354.9,442.4 L352.7,440.8 L350.1,440.2 L345.1,439.6 L342.5,438.4 L340,437.3 L337.2,436.6 L333.9,436.4 L330.6,436.3 L327.3,436.6 L323.4,434.7 L323.4,432 L322.2,429.5 L322.4,426.8 L322.7,424.2 L321.9,421.5 L322.4,418.9 L325.1,416.7 L327.3,414 L326.4,409 L324.6,405.9 L322.4,403.1 L319.5,401.9 L316.5,401.1 L314.5,398.2 L316.2,394.9 L317.5,391.3 L317.5,388.3 L318.5,385.4 L321.4,381.4 L320.4,378 L320.4,374.5 L324.4,371.6 L324.4,368.1 L325.4,364.7 L328.3,361.7 L326.4,359.7 L323.9,358.6 L321.2,357.9 L318.5,357.4 L315.5,359.7 L313.4,361.5 L312,364 L309.6,365.6 L306.5,366.7 L303.9,368.8 L300.7,369.6 L299.5,373 L298.7,376.5 L299.7,379.4 L299.5,382 L300.2,384.7 L299.4,387.4 L299.7,390 L295.4,392.2 L292.6,392.7 L289.9,393.6 L287.5,395.1 L284.6,395.4 L281.8,396.3 L279.4,398.1 L276.4,398.4 L273.8,399.8 L271.1,401.4 L267.9,401.6 L265.1,403 L262.3,403.3 L259.7,402.1 L256.9,402.1 L254.2,402 L251.6,401.1 L248.8,400.7 L246,400.9 L243.4,399.8 L240.1,399.3 L236.8,399.6 L233.6,398.7 L230.4,396.4 L227.1,394.4 L226.4,391.5 L224.9,388.9 L226.1,385.4 L228.2,382.4 L230.4,380.3 L232.2,377.7 L234.7,375.9 L234.8,372.6 L234.7,369.4 L232.8,367 L230.4,365.1 L227.3,363.3 L224.9,360.7 L225.4,357.8 L225.1,354.9 L226,352.1 L227.2,348.9 L228.2,345.6 L227.9,342.9 L226.8,340.5 L226,338 L229.3,335.8 L228.2,332.5 L223.9,333.6 L223.6,330.9 L222.5,328.5 L221.7,326 L219.8,323.9 L217.4,322.4 L215.2,320.6 L213.3,318.4 L210.9,317 L208.7,315.2 L205.7,315.1 L202.9,315.9 L200,316.3 L197.3,315.7 L194.5,316 L191.8,315.9 L188.9,315.1 L185.9,315.3 L182.8,315.5 L179.9,314.7 L177.3,315.3 L174.7,316.3 L171.8,316 L169.3,317 L168.5,320.7 L166.9,324.1 L163.4,321.8 L161.8,319.6 L161.4,316.8 L159.8,314.7 L159.3,312.1 L160.3,309.5 L159.8,306.9 L159.3,304.3 L159.8,301.7 L159.5,299 L158.8,296.4 L159.4,293.6 L158.6,291 L156.3,289.3 L155,286.7 L152.7,285.1 L150,285.2 L147.6,283.9 L144.9,284.2 L142.2,284.2 L139.7,283.4 L138.4,280.7 L137.3,278 L132.6,276.8 L130.3,279.5 L127.9,282 L125.1,281.7 L122.4,282.6 L119.6,282.7 L117.9,280.3 L115.4,278.6 L113.1,276.8 L111.3,274.4 L110,272.1 L108.6,269.8 L107.8,267.3 L107.4,264.4 L106.8,261.4 L107.4,258.4 L106.6,255.5 L105.4,252.4 L105.5,249 L104.2,246 L103,243 L103.1,239.6 L101.8,236.6 L99.9,234.4 L99.1,231.6 L97.1,229.5 L95.6,227.3 L95.2,224.5 L93.4,222.5 L92.4,220 L88.1,218.7 L85.6,220 L83,221.3 L80,221.6 L77.7,223.4 L75,224.3 L72.1,225.3 L69.8,227.5 L67.2,229.1 L64.2,229.8 L61.8,231.8 L60.2,234.5 L57.6,236.5 L56.2,239.3 L54.1,237.7 L52.8,235.2 L50.4,233.8 L48.7,231.8 L46.7,229.5 L43.9,228.2 L41.5,226.4 L39.4,224.3 L37.8,222.1 L36.3,219.8 L35.6,217 L33.7,215 L30.8,214.3 L28.3,212.6 L25.2,212.4 L22.5,211.2 L21.9,208.2 L20,205.7 L18.9,202.9 L18,200 L17.2,197.2 L16.6,194.4 L16.8,191.4 L15.7,188.7 L15.7,185.9 L16.8,183.2 L16.3,180.3 L16.9,177.5 L16.5,174.8 L14.8,172.6 L14.2,170 L14.2,167.2 L12.8,164.7 L12.4,162 L12.6,159.2 L11.2,156.7 Z" fill="none" stroke="#272727" stroke-width="1.8" stroke-linejoin="round"/>
</g>
</svg>
</body></html>
